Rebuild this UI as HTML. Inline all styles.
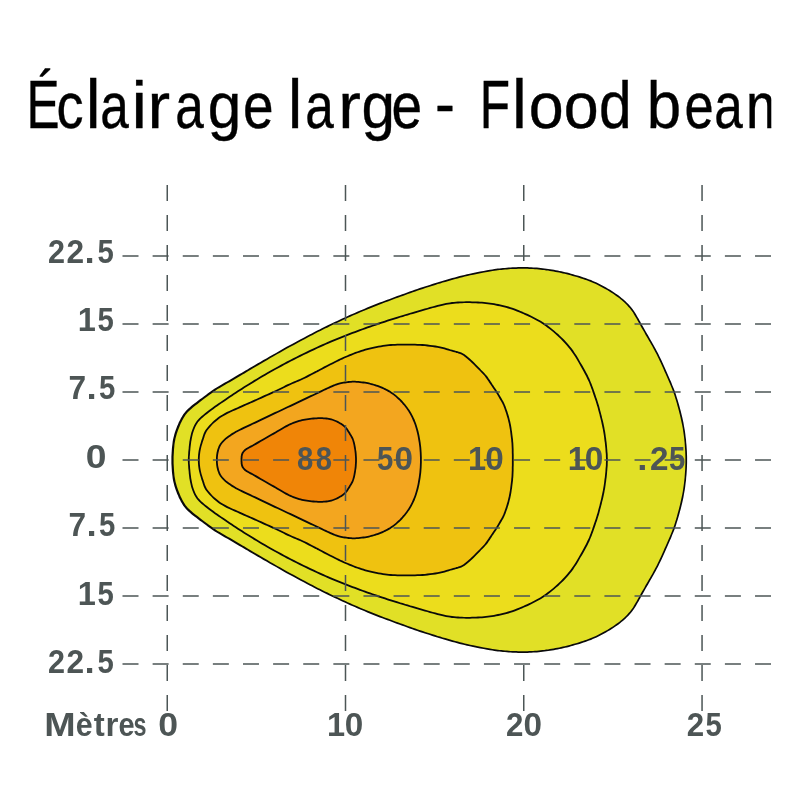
<!DOCTYPE html>
<html lang="fr"><head><meta charset="utf-8"><title>Éclairage large - Flood beam</title>
<style>
html,body{margin:0;padding:0;background:#fff;}
svg{display:block;}
text{font-family:"Liberation Sans",sans-serif;}
.t text{font-size:65.2px;fill:#000;stroke:#000;stroke-width:0.4;}
.l text{font-size:32.5px;font-weight:bold;fill:#4d5555;}
.g line{stroke:#4c5656;stroke-width:1.5;stroke-dasharray:16 14;fill:none;}
.g line.h{stroke-dasharray:16 14.12;}
.c path.k{fill:#0a0a0a;}
</style></head><body>
<svg width="800" height="800" viewBox="0 0 800 800">
<defs><clipPath id="cl"><rect x="0" y="0" width="771.3" height="800"/></clipPath></defs>
<rect width="800" height="800" fill="#fff"/>
<g class="g"><line x1="523.75" y1="185" x2="523.75" y2="711"/></g>
<g class="c">
<path d="M172.50 460.00C172.50 456.67 172.63 453.33 172.90 450.00C173.17 446.67 173.43 443.33 174.10 440.00C174.77 436.67 175.71 433.33 176.90 430.00C178.09 426.67 179.80 422.82 181.25 420.00C182.70 417.18 183.82 415.28 185.60 413.10C187.38 410.92 189.08 409.29 191.90 406.90C194.72 404.51 198.65 401.63 202.50 398.75C206.35 395.87 210.83 392.33 215.00 389.59C219.17 386.85 223.33 384.74 227.50 382.29C231.67 379.84 235.83 377.37 240.00 374.91C244.17 372.45 247.50 370.46 252.50 367.53C257.50 364.60 263.75 360.91 270.00 357.32C276.25 353.73 283.33 349.69 290.00 346.01C296.67 342.33 305.00 337.91 310.00 335.27C315.00 332.63 315.83 332.23 320.00 330.15C324.17 328.07 330.00 325.18 335.00 322.81C340.00 320.44 345.00 318.14 350.00 315.91C355.00 313.68 360.00 311.53 365.00 309.45C370.00 307.37 375.00 305.35 380.00 303.41C385.00 301.47 390.00 299.66 395.00 297.82C400.00 295.98 405.00 294.12 410.00 292.37C415.00 290.62 420.00 288.93 425.00 287.29C430.00 285.66 435.00 284.06 440.00 282.56C445.00 281.06 450.00 279.61 455.00 278.26C460.00 276.91 464.17 275.77 470.00 274.49C475.83 273.21 484.79 271.50 490.00 270.60C495.21 269.70 497.50 269.50 501.25 269.10C505.00 268.70 508.75 268.38 512.50 268.19C516.25 268.00 520.00 267.90 523.75 267.93C527.50 267.96 531.25 268.09 535.00 268.35C538.75 268.61 542.50 269.00 546.25 269.51C550.00 270.01 553.75 270.64 557.50 271.38C561.25 272.12 564.79 272.93 568.75 273.97C572.71 275.01 577.29 276.31 581.25 277.60C585.21 278.89 588.75 280.10 592.50 281.70C596.25 283.30 600.00 285.13 603.75 287.20C607.50 289.27 611.67 291.82 615.00 294.10C618.33 296.38 620.98 298.38 623.75 300.90C626.52 303.42 629.35 306.32 631.60 309.20C633.85 312.08 635.56 315.36 637.25 318.20C638.94 321.04 639.88 322.95 641.75 326.25C643.62 329.55 646.29 334.12 648.50 338.00C650.71 341.88 652.98 345.73 655.00 349.50C657.02 353.27 658.70 356.60 660.60 360.60C662.50 364.60 664.15 368.28 666.40 373.50C668.65 378.72 671.97 386.02 674.10 391.90C676.23 397.77 677.70 403.13 679.20 408.75C680.70 414.37 682.07 419.98 683.10 425.60C684.13 431.23 684.87 436.77 685.40 442.50C685.93 448.23 686.30 454.17 686.30 460.00C686.30 465.83 685.93 471.77 685.40 477.50C684.87 483.23 684.13 488.77 683.10 494.40C682.07 500.02 680.70 505.63 679.20 511.25C677.70 516.87 676.23 522.23 674.10 528.10C671.97 533.98 668.65 541.28 666.40 546.50C664.15 551.72 662.50 555.40 660.60 559.40C658.70 563.40 657.02 566.73 655.00 570.50C652.98 574.27 650.71 578.12 648.50 582.00C646.29 585.88 643.62 590.45 641.75 593.75C639.88 597.05 638.94 598.96 637.25 601.80C635.56 604.64 633.85 607.92 631.60 610.80C629.35 613.68 626.52 616.58 623.75 619.10C620.98 621.62 618.33 623.62 615.00 625.90C611.67 628.18 607.50 630.73 603.75 632.80C600.00 634.87 596.25 636.70 592.50 638.30C588.75 639.90 585.21 641.11 581.25 642.40C577.29 643.69 572.71 644.99 568.75 646.03C564.79 647.07 561.25 647.88 557.50 648.62C553.75 649.36 550.00 649.99 546.25 650.49C542.50 651.00 538.75 651.39 535.00 651.65C531.25 651.91 527.50 652.04 523.75 652.07C520.00 652.10 516.25 652.00 512.50 651.81C508.75 651.62 505.00 651.30 501.25 650.90C497.50 650.50 495.21 650.30 490.00 649.40C484.79 648.50 475.83 646.79 470.00 645.51C464.17 644.23 460.00 643.09 455.00 641.74C450.00 640.39 445.00 638.95 440.00 637.44C435.00 635.94 430.00 634.35 425.00 632.71C420.00 631.08 415.00 629.38 410.00 627.63C405.00 625.88 400.00 624.02 395.00 622.18C390.00 620.34 385.00 618.53 380.00 616.59C375.00 614.65 370.00 612.63 365.00 610.55C360.00 608.47 355.00 606.32 350.00 604.09C345.00 601.86 340.00 599.56 335.00 597.19C330.00 594.82 324.17 591.93 320.00 589.85C315.83 587.77 315.00 587.37 310.00 584.73C305.00 582.09 296.67 577.66 290.00 573.99C283.33 570.32 276.25 566.27 270.00 562.68C263.75 559.09 257.50 555.40 252.50 552.47C247.50 549.54 244.17 547.55 240.00 545.09C235.83 542.63 231.67 540.16 227.50 537.71C223.33 535.26 219.17 533.15 215.00 530.41C210.83 527.67 206.35 524.13 202.50 521.25C198.65 518.37 194.72 515.49 191.90 513.10C189.08 510.71 187.38 509.08 185.60 506.90C183.82 504.72 182.70 502.82 181.25 500.00C179.80 497.18 178.09 493.33 176.90 490.00C175.71 486.67 174.77 483.33 174.10 480.00C173.43 476.67 173.17 473.33 172.90 470.00C172.63 466.67 172.50 463.33 172.50 460.00Z" fill="#e1e026"/>
<path class="k" fill-rule="evenodd" d="M171.4 460.0L171.4 458.3L171.4 456.6L171.5 455.0L171.6 453.3L171.7 451.6L171.8 449.9L171.9 448.2L172.1 446.6L172.3 444.9L172.5 443.2L172.7 441.5L173.0 439.8L173.4 438.1L173.8 436.4L174.2 434.7L174.7 433.0L175.3 431.3L175.9 429.6L176.5 427.9L177.2 426.1L178.0 424.4L178.7 422.6L179.5 421.0L180.3 419.5L181.0 418.1L181.7 416.9L182.4 415.7L183.1 414.6L183.9 413.5L184.7 412.4L185.7 411.3L186.6 410.3L187.6 409.3L188.7 408.3L189.9 407.2L191.2 406.1L192.7 404.8L194.4 403.5L196.2 402.2L198.0 400.8L199.9 399.3L201.9 397.9L203.8 396.4L205.9 394.9L208.0 393.3L210.2 391.7L212.3 390.2L214.4 388.7L216.6 387.4L218.7 386.2L220.8 385.0L222.8 383.8L224.9 382.6L227.0 381.4L229.1 380.2L231.2 379.0L233.3 377.8L235.3 376.5L237.4 375.3L239.5 374.1L241.5 372.9L243.5 371.7L245.5 370.6L247.5 369.4L249.7 368.1L252.0 366.7L254.6 365.2L257.4 363.6L260.3 361.9L263.4 360.1L266.4 358.4L269.6 356.6L272.8 354.7L276.1 352.9L279.4 351.0L282.8 349.0L286.2 347.1L289.6 345.3L293.0 343.4L296.6 341.4L300.2 339.5L303.7 337.7L306.8 336.0L309.6 334.5L311.8 333.4L313.5 332.5L314.9 331.7L316.3 331.1L317.8 330.3L319.6 329.4L321.8 328.3L324.3 327.1L326.8 325.8L329.4 324.5L332.1 323.3L334.6 322.0L337.1 320.9L339.6 319.7L342.1 318.5L344.6 317.4L347.2 316.3L349.7 315.1L352.2 314.0L354.7 312.9L357.2 311.8L359.7 310.8L362.2 309.7L364.7 308.7L367.2 307.6L369.7 306.6L372.2 305.6L374.7 304.6L377.2 303.6L379.7 302.6L382.2 301.7L384.7 300.7L387.2 299.8L389.7 298.9L392.2 297.9L394.7 297.0L397.2 296.1L399.7 295.2L402.2 294.3L404.7 293.4L407.2 292.5L409.7 291.6L412.2 290.7L414.7 289.8L417.2 289.0L419.7 288.1L422.2 287.3L424.7 286.5L427.2 285.7L429.7 284.9L432.2 284.1L434.7 283.3L437.3 282.5L439.8 281.7L442.3 281.0L444.8 280.3L447.3 279.5L449.8 278.8L452.3 278.1L454.8 277.4L457.2 276.8L459.6 276.1L462.0 275.5L464.4 274.9L467.0 274.3L469.8 273.7L473.0 273.0L476.5 272.3L480.1 271.6L483.6 270.9L487.0 270.3L489.9 269.8L492.2 269.4L494.3 269.1L496.1 268.8L497.7 268.6L499.4 268.4L501.2 268.3L503.0 268.1L504.9 267.9L506.8 267.7L508.7 267.6L510.6 267.4L512.5 267.3L514.3 267.3L516.2 267.2L518.1 267.1L520.0 267.1L521.9 267.1L523.8 267.1L525.6 267.1L527.5 267.1L529.4 267.2L531.3 267.3L533.2 267.4L535.1 267.5L536.9 267.6L538.8 267.8L540.7 268.0L542.6 268.2L544.5 268.4L546.4 268.7L548.2 268.9L550.1 269.2L552.0 269.5L553.9 269.8L555.8 270.2L557.7 270.5L559.5 270.9L561.4 271.3L563.2 271.7L565.1 272.2L567.0 272.6L569.0 273.1L571.0 273.7L573.1 274.3L575.2 274.9L577.4 275.5L579.5 276.1L581.5 276.8L583.5 277.4L585.4 278.1L587.2 278.7L589.1 279.4L591.0 280.1L592.8 280.9L594.7 281.7L596.6 282.6L598.5 283.5L600.4 284.5L602.3 285.4L604.2 286.5L606.1 287.5L608.0 288.7L610.0 289.8L611.9 291.0L613.7 292.2L615.5 293.4L617.1 294.5L618.6 295.6L620.1 296.7L621.5 297.9L622.9 299.0L624.3 300.3L625.7 301.6L627.1 302.9L628.5 304.3L629.8 305.8L631.1 307.2L632.3 308.7L633.4 310.2L634.4 311.7L635.4 313.3L636.3 314.8L637.1 316.3L638.0 317.8L638.8 319.1L639.5 320.4L640.2 321.6L640.9 322.9L641.6 324.3L642.5 325.8L643.5 327.6L644.6 329.5L645.7 331.5L646.9 333.5L648.1 335.6L649.2 337.6L650.3 339.5L651.5 341.4L652.6 343.4L653.6 345.3L654.7 347.2L655.7 349.1L656.7 351.0L657.7 352.8L658.6 354.6L659.5 356.4L660.4 358.3L661.4 360.2L662.3 362.2L663.2 364.2L664.1 366.2L665.1 368.4L666.1 370.7L667.2 373.2L668.4 375.9L669.7 378.9L671.1 382.1L672.4 385.4L673.7 388.5L674.9 391.6L675.9 394.5L676.8 397.4L677.7 400.2L678.5 403.0L679.3 405.7L680.0 408.5L680.8 411.3L681.5 414.2L682.2 417.0L682.8 419.8L683.4 422.6L683.9 425.4L684.4 428.3L684.9 431.1L685.3 433.9L685.6 436.7L686.0 439.6L686.2 442.4L686.5 445.3L686.7 448.2L686.9 451.2L687.0 454.1L687.1 457.1L687.1 460.0L687.1 462.9L687.0 465.9L686.9 468.8L686.7 471.8L686.5 474.7L686.2 477.6L686.0 480.4L685.6 483.3L685.3 486.1L684.9 488.9L684.4 491.7L683.9 494.6L683.4 497.4L682.8 500.2L682.2 503.0L681.5 505.8L680.8 508.7L680.0 511.5L679.3 514.3L678.5 517.0L677.7 519.8L676.8 522.6L675.9 525.5L674.9 528.4L673.7 531.5L672.4 534.6L671.1 537.9L669.7 541.1L668.4 544.1L667.2 546.8L666.1 549.3L665.1 551.6L664.1 553.8L663.2 555.8L662.3 557.8L661.4 559.8L660.4 561.7L659.5 563.6L658.6 565.4L657.7 567.2L656.7 569.0L655.7 570.9L654.7 572.8L653.6 574.7L652.6 576.6L651.5 578.6L650.3 580.5L649.2 582.4L648.1 584.4L646.9 586.5L645.7 588.5L644.6 590.5L643.5 592.4L642.5 594.2L641.6 595.7L640.9 597.1L640.2 598.4L639.5 599.6L638.8 600.9L638.0 602.2L637.1 603.7L636.3 605.2L635.4 606.7L634.4 608.3L633.4 609.8L632.3 611.3L631.1 612.8L629.8 614.2L628.5 615.7L627.1 617.1L625.7 618.4L624.3 619.7L622.9 621.0L621.5 622.1L620.1 623.3L618.6 624.4L617.1 625.5L615.5 626.6L613.7 627.8L611.9 629.0L610.0 630.2L608.0 631.3L606.1 632.5L604.2 633.5L602.3 634.6L600.4 635.5L598.5 636.5L596.6 637.4L594.7 638.3L592.8 639.1L591.0 639.9L589.1 640.6L587.2 641.3L585.4 641.9L583.5 642.6L581.5 643.2L579.5 643.9L577.4 644.5L575.2 645.1L573.1 645.7L571.0 646.3L569.0 646.9L567.0 647.4L565.1 647.8L563.2 648.3L561.4 648.7L559.5 649.1L557.7 649.5L555.8 649.8L553.9 650.2L552.0 650.5L550.1 650.8L548.2 651.1L546.4 651.3L544.5 651.6L542.6 651.8L540.7 652.0L538.8 652.2L536.9 652.4L535.1 652.5L533.2 652.6L531.3 652.7L529.4 652.8L527.5 652.9L525.6 652.9L523.8 652.9L521.9 652.9L520.0 652.9L518.1 652.9L516.2 652.8L514.3 652.7L512.5 652.7L510.6 652.6L508.7 652.4L506.8 652.3L504.9 652.1L503.0 651.9L501.2 651.7L499.4 651.6L497.7 651.4L496.1 651.2L494.3 650.9L492.2 650.6L489.9 650.2L487.0 649.7L483.6 649.1L480.1 648.4L476.5 647.7L473.0 647.0L469.8 646.3L467.0 645.7L464.4 645.1L462.0 644.5L459.6 643.9L457.2 643.2L454.8 642.6L452.3 641.9L449.8 641.2L447.3 640.5L444.8 639.7L442.3 639.0L439.8 638.3L437.3 637.5L434.7 636.7L432.2 635.9L429.7 635.1L427.2 634.3L424.7 633.5L422.2 632.7L419.7 631.9L417.2 631.0L414.7 630.2L412.2 629.3L409.7 628.4L407.2 627.5L404.7 626.6L402.2 625.7L399.7 624.8L397.2 623.9L394.7 623.0L392.2 622.1L389.7 621.1L387.2 620.2L384.7 619.3L382.2 618.3L379.7 617.4L377.2 616.4L374.7 615.4L372.2 614.4L369.7 613.4L367.2 612.4L364.7 611.3L362.2 610.3L359.7 609.2L357.2 608.2L354.7 607.1L352.2 606.0L349.7 604.9L347.2 603.7L344.6 602.6L342.1 601.5L339.6 600.3L337.1 599.1L334.6 598.0L332.1 596.7L329.4 595.5L326.8 594.2L324.3 592.9L321.8 591.7L319.6 590.6L317.8 589.7L316.3 588.9L314.9 588.3L313.5 587.5L311.8 586.6L309.6 585.5L306.8 584.0L303.7 582.3L300.2 580.5L296.6 578.6L293.0 576.6L289.6 574.7L286.2 572.9L282.8 571.0L279.4 569.0L276.1 567.1L272.8 565.3L269.6 563.4L266.4 561.6L263.4 559.9L260.3 558.1L257.4 556.4L254.6 554.8L252.0 553.3L249.7 551.9L247.5 550.6L245.5 549.4L243.5 548.3L241.5 547.1L239.5 545.9L237.4 544.7L235.3 543.5L233.3 542.2L231.2 541.0L229.1 539.8L227.0 538.6L224.9 537.4L222.8 536.2L220.8 535.0L218.7 533.8L216.6 532.6L214.4 531.3L212.3 529.8L210.2 528.3L208.0 526.7L205.9 525.1L203.8 523.6L201.9 522.1L199.9 520.7L198.0 519.2L196.2 517.8L194.4 516.5L192.7 515.2L191.2 513.9L189.9 512.8L188.7 511.7L187.6 510.7L186.6 509.7L185.7 508.7L184.7 507.6L183.9 506.5L183.1 505.4L182.4 504.3L181.7 503.1L181.0 501.9L180.3 500.5L179.5 499.0L178.7 497.4L178.0 495.6L177.2 493.9L176.5 492.1L175.9 490.4L175.3 488.7L174.7 487.0L174.2 485.3L173.8 483.6L173.4 481.9L173.0 480.2L172.7 478.5L172.5 476.8L172.3 475.1L172.1 473.4L171.9 471.8L171.8 470.1L171.7 468.4L171.6 466.7L171.5 465.0L171.4 463.4L171.4 461.7ZM173.6 460.0L173.6 458.3L173.6 456.7L173.7 455.0L173.8 453.4L173.9 451.7L174.0 450.1L174.1 448.4L174.3 446.8L174.4 445.1L174.6 443.5L174.9 441.8L175.2 440.2L175.5 438.6L175.9 436.9L176.4 435.3L176.8 433.7L177.4 432.0L177.9 430.4L178.6 428.7L179.3 427.0L180.0 425.2L180.7 423.6L181.5 422.0L182.2 420.5L182.9 419.2L183.6 418.0L184.2 416.9L184.9 415.9L185.6 414.8L186.5 413.8L187.3 412.8L188.2 411.8L189.1 410.9L190.1 409.9L191.3 408.9L192.6 407.7L194.1 406.5L195.7 405.2L197.5 403.9L199.3 402.5L201.2 401.0L203.1 399.6L205.1 398.1L207.2 396.5L209.2 394.9L211.4 393.4L213.5 391.9L215.6 390.4L217.6 389.1L219.7 387.9L221.7 386.7L223.8 385.5L225.9 384.3L228.0 383.1L230.1 381.9L232.2 380.7L234.2 379.4L236.3 378.2L238.4 377.0L240.5 375.7L242.5 374.5L244.5 373.4L246.4 372.2L248.4 371.0L250.6 369.7L253.0 368.3L255.6 366.8L258.3 365.2L261.2 363.4L264.2 361.7L267.3 359.9L270.4 358.1L273.6 356.2L276.9 354.3L280.3 352.4L283.7 350.5L287.1 348.6L290.4 346.8L293.9 344.9L297.4 342.9L301.0 341.0L304.5 339.2L307.6 337.5L310.4 336.0L312.6 334.9L314.3 334.0L315.7 333.3L317.0 332.6L318.5 331.8L320.4 330.9L322.6 329.8L325.0 328.6L327.6 327.4L330.2 326.1L332.8 324.8L335.4 323.6L337.9 322.4L340.4 321.2L342.9 320.1L345.4 318.9L347.8 317.8L350.3 316.7L352.8 315.6L355.3 314.5L357.8 313.4L360.3 312.3L362.8 311.3L365.3 310.2L367.8 309.2L370.3 308.2L372.8 307.2L375.3 306.2L377.8 305.2L380.3 304.2L382.8 303.2L385.3 302.3L387.8 301.4L390.3 300.5L392.8 299.5L395.3 298.6L397.8 297.7L400.3 296.8L402.8 295.9L405.3 295.0L407.8 294.1L410.3 293.2L412.8 292.3L415.3 291.4L417.8 290.6L420.3 289.7L422.8 288.9L425.3 288.1L427.8 287.3L430.3 286.5L432.8 285.7L435.3 284.9L437.7 284.1L440.2 283.4L442.7 282.6L445.2 281.9L447.7 281.2L450.2 280.5L452.7 279.8L455.2 279.1L457.7 278.4L460.0 277.8L462.4 277.2L464.8 276.6L467.4 275.9L470.2 275.3L473.3 274.7L476.8 273.9L480.4 273.2L484.0 272.6L487.3 271.9L490.1 271.4L492.5 271.0L494.5 270.7L496.3 270.5L497.9 270.3L499.6 270.1L501.3 269.9L503.2 269.8L505.1 269.6L506.9 269.4L508.8 269.3L510.7 269.1L512.5 269.0L514.4 269.0L516.3 268.9L518.1 268.8L520.0 268.8L521.9 268.8L523.7 268.8L525.6 268.8L527.5 268.8L529.3 268.9L531.2 269.0L533.1 269.1L534.9 269.2L536.8 269.3L538.7 269.5L540.5 269.7L542.4 269.9L544.3 270.1L546.1 270.4L548.0 270.6L549.9 270.9L551.7 271.2L553.6 271.5L555.5 271.9L557.3 272.2L559.2 272.6L561.0 273.0L562.9 273.4L564.7 273.8L566.6 274.3L568.5 274.8L570.6 275.3L572.6 275.9L574.8 276.5L576.9 277.1L579.0 277.8L581.0 278.4L582.9 279.0L584.8 279.7L586.7 280.3L588.5 281.0L590.3 281.7L592.2 282.5L594.0 283.3L595.9 284.1L597.8 285.0L599.6 286.0L601.5 286.9L603.3 287.9L605.2 289.0L607.2 290.1L609.1 291.3L611.0 292.5L612.8 293.6L614.5 294.8L616.1 295.9L617.6 297.0L619.1 298.1L620.5 299.2L621.8 300.3L623.2 301.5L624.6 302.8L625.9 304.1L627.3 305.5L628.5 306.9L629.8 308.3L630.9 309.7L632.0 311.2L633.0 312.6L633.9 314.2L634.8 315.7L635.7 317.2L636.5 318.6L637.3 320.0L638.0 321.2L638.7 322.5L639.4 323.7L640.1 325.1L641.0 326.7L642.0 328.4L643.1 330.3L644.3 332.3L645.4 334.4L646.6 336.4L647.8 338.4L648.9 340.4L650.0 342.3L651.1 344.2L652.2 346.1L653.2 348.0L654.3 349.9L655.2 351.7L656.2 353.6L657.1 355.3L658.0 357.2L658.9 359.0L659.8 361.0L660.8 362.9L661.7 364.9L662.6 366.9L663.5 369.1L664.5 371.4L665.6 373.8L666.8 376.6L668.1 379.6L669.5 382.8L670.9 386.0L672.2 389.2L673.3 392.2L674.3 395.1L675.2 397.9L676.1 400.7L676.9 403.4L677.6 406.2L678.4 409.0L679.1 411.8L679.8 414.6L680.5 417.4L681.1 420.2L681.7 423.0L682.3 425.8L682.8 428.5L683.2 431.3L683.6 434.1L684.0 436.9L684.3 439.7L684.6 442.6L684.8 445.5L685.0 448.3L685.2 451.3L685.3 454.2L685.4 457.1L685.4 460.0L685.4 462.9L685.3 465.8L685.2 468.7L685.0 471.7L684.8 474.5L684.6 477.4L684.3 480.3L684.0 483.1L683.6 485.9L683.2 488.7L682.8 491.5L682.3 494.2L681.7 497.0L681.1 499.8L680.5 502.6L679.8 505.4L679.1 508.2L678.4 511.0L677.6 513.8L676.9 516.6L676.1 519.3L675.2 522.1L674.3 524.9L673.3 527.8L672.2 530.8L670.9 534.0L669.5 537.2L668.1 540.4L666.8 543.4L665.6 546.2L664.5 548.6L663.5 550.9L662.6 553.1L661.7 555.1L660.8 557.1L659.8 559.0L658.9 561.0L658.0 562.8L657.1 564.7L656.2 566.4L655.2 568.3L654.3 570.1L653.2 572.0L652.2 573.9L651.1 575.8L650.0 577.7L648.9 579.6L647.8 581.6L646.6 583.6L645.4 585.6L644.3 587.7L643.1 589.7L642.0 591.6L641.0 593.3L640.1 594.9L639.4 596.3L638.7 597.5L638.0 598.8L637.3 600.0L636.5 601.4L635.7 602.8L634.8 604.3L633.9 605.8L633.0 607.4L632.0 608.8L630.9 610.3L629.8 611.7L628.5 613.1L627.3 614.5L625.9 615.9L624.6 617.2L623.2 618.5L621.8 619.7L620.5 620.8L619.1 621.9L617.6 623.0L616.1 624.1L614.5 625.2L612.8 626.4L611.0 627.5L609.1 628.7L607.2 629.9L605.2 631.0L603.3 632.1L601.5 633.1L599.6 634.0L597.8 635.0L595.9 635.9L594.0 636.7L592.2 637.5L590.3 638.3L588.5 639.0L586.7 639.7L584.8 640.3L582.9 641.0L581.0 641.6L579.0 642.2L576.9 642.9L574.8 643.5L572.6 644.1L570.6 644.7L568.5 645.2L566.6 645.7L564.7 646.2L562.9 646.6L561.0 647.0L559.2 647.4L557.3 647.8L555.5 648.1L553.6 648.5L551.7 648.8L549.9 649.1L548.0 649.4L546.1 649.6L544.3 649.9L542.4 650.1L540.5 650.3L538.7 650.5L536.8 650.7L534.9 650.8L533.1 650.9L531.2 651.0L529.3 651.1L527.5 651.2L525.6 651.2L523.7 651.2L521.9 651.2L520.0 651.2L518.1 651.2L516.3 651.1L514.4 651.0L512.5 651.0L510.7 650.9L508.8 650.7L506.9 650.6L505.1 650.4L503.2 650.2L501.3 650.1L499.6 649.9L497.9 649.7L496.3 649.5L494.5 649.3L492.5 649.0L490.1 648.6L487.3 648.1L484.0 647.4L480.4 646.8L476.8 646.1L473.3 645.3L470.2 644.7L467.4 644.1L464.8 643.4L462.4 642.8L460.0 642.2L457.7 641.6L455.2 640.9L452.7 640.2L450.2 639.5L447.7 638.8L445.2 638.1L442.7 637.4L440.2 636.6L437.7 635.9L435.3 635.1L432.8 634.3L430.3 633.5L427.8 632.7L425.3 631.9L422.8 631.1L420.3 630.3L417.8 629.4L415.3 628.6L412.8 627.7L410.3 626.8L407.8 625.9L405.3 625.0L402.8 624.1L400.3 623.2L397.8 622.3L395.3 621.4L392.8 620.5L390.3 619.5L387.8 618.6L385.3 617.7L382.8 616.8L380.3 615.8L377.8 614.8L375.3 613.8L372.8 612.8L370.3 611.8L367.8 610.8L365.3 609.8L362.8 608.7L360.3 607.7L357.8 606.6L355.3 605.5L352.8 604.4L350.3 603.3L347.8 602.2L345.4 601.1L342.9 599.9L340.4 598.8L337.9 597.6L335.4 596.4L332.8 595.2L330.2 593.9L327.6 592.6L325.0 591.4L322.6 590.2L320.4 589.1L318.5 588.2L317.0 587.4L315.7 586.7L314.3 586.0L312.6 585.1L310.4 584.0L307.6 582.5L304.5 580.8L301.0 579.0L297.4 577.1L293.9 575.1L290.4 573.2L287.1 571.4L283.7 569.5L280.3 567.6L276.9 565.7L273.6 563.8L270.4 561.9L267.3 560.1L264.2 558.3L261.2 556.6L258.3 554.8L255.6 553.2L253.0 551.7L250.6 550.3L248.4 549.0L246.4 547.8L244.5 546.6L242.5 545.5L240.5 544.3L238.4 543.0L236.3 541.8L234.2 540.6L232.2 539.3L230.1 538.1L228.0 536.9L225.9 535.7L223.8 534.5L221.7 533.3L219.7 532.1L217.6 530.9L215.6 529.6L213.5 528.1L211.4 526.6L209.2 525.1L207.2 523.5L205.1 521.9L203.1 520.4L201.2 519.0L199.3 517.5L197.5 516.1L195.7 514.8L194.1 513.5L192.6 512.3L191.3 511.1L190.1 510.1L189.1 509.1L188.2 508.2L187.3 507.2L186.5 506.2L185.6 505.2L184.9 504.1L184.2 503.1L183.6 502.0L182.9 500.8L182.2 499.5L181.5 498.0L180.7 496.4L180.0 494.8L179.3 493.0L178.6 491.3L177.9 489.6L177.4 488.0L176.8 486.3L176.4 484.7L175.9 483.1L175.5 481.4L175.2 479.8L174.9 478.2L174.6 476.5L174.4 474.9L174.3 473.2L174.1 471.6L174.0 469.9L173.9 468.3L173.8 466.6L173.7 465.0L173.6 463.3L173.6 461.7Z"/>
<path d="M188.75 460.00C188.75 456.67 189.09 453.33 189.40 450.00C189.71 446.67 189.98 443.34 190.60 440.03C191.22 436.72 191.95 433.21 193.10 430.14C194.25 427.07 195.52 424.22 197.50 421.60C199.48 418.99 202.08 416.90 205.00 414.45C207.92 412.00 211.25 409.58 215.00 406.88C218.75 404.18 223.33 401.06 227.50 398.25C231.67 395.44 235.83 392.68 240.00 390.00C244.17 387.32 248.33 384.70 252.50 382.15C256.67 379.60 260.21 377.45 265.00 374.69C269.79 371.93 275.42 368.71 281.25 365.57C287.08 362.43 293.54 359.05 300.00 355.86C306.46 352.67 314.17 349.07 320.00 346.42C325.83 343.77 330.00 342.02 335.00 339.94C340.00 337.86 345.00 335.85 350.00 333.92C355.00 331.99 360.00 330.14 365.00 328.35C370.00 326.56 375.00 324.83 380.00 323.16C385.00 321.49 390.00 319.89 395.00 318.33C400.00 316.76 405.00 315.25 410.00 313.77C415.00 312.29 420.00 310.87 425.00 309.45C430.00 308.03 435.50 306.35 440.00 305.28C444.50 304.20 448.00 303.50 452.00 303.00C456.00 302.50 460.00 302.35 464.00 302.25C468.00 302.15 472.00 302.22 476.00 302.40C480.00 302.57 484.00 302.80 488.00 303.30C492.00 303.80 496.00 304.52 500.00 305.40C504.00 306.28 508.67 307.54 512.00 308.60C515.33 309.66 516.79 310.38 520.00 311.75C523.21 313.12 527.50 314.93 531.25 316.80C535.00 318.68 538.75 320.56 542.50 323.00C546.25 325.44 550.00 328.27 553.75 331.45C557.50 334.63 561.62 338.44 565.00 342.10C568.38 345.76 570.75 348.54 574.00 353.40C577.25 358.26 581.83 366.40 584.50 371.25C587.17 376.10 588.40 378.75 590.00 382.50C591.60 386.25 592.80 390.00 594.10 393.75C595.40 397.50 596.68 401.25 597.80 405.00C598.92 408.75 599.87 412.50 600.80 416.25C601.73 420.00 602.67 423.75 603.40 427.50C604.13 431.25 604.70 435.00 605.20 438.75C605.70 442.50 606.12 446.46 606.40 450.00C606.68 453.54 606.90 456.67 606.90 460.00C606.90 463.33 606.68 466.46 606.40 470.00C606.12 473.54 605.70 477.50 605.20 481.25C604.70 485.00 604.13 488.75 603.40 492.50C602.67 496.25 601.73 500.00 600.80 503.75C599.87 507.50 598.92 511.25 597.80 515.00C596.68 518.75 595.40 522.50 594.10 526.25C592.80 530.00 591.60 533.75 590.00 537.50C588.40 541.25 587.17 543.90 584.50 548.75C581.83 553.60 577.25 561.74 574.00 566.60C570.75 571.46 568.38 574.24 565.00 577.90C561.62 581.56 557.50 585.37 553.75 588.55C550.00 591.73 546.25 594.56 542.50 597.00C538.75 599.44 535.00 601.33 531.25 603.20C527.50 605.08 523.21 606.88 520.00 608.25C516.79 609.62 515.33 610.34 512.00 611.40C508.67 612.46 504.00 613.72 500.00 614.60C496.00 615.48 492.00 616.20 488.00 616.70C484.00 617.20 480.00 617.43 476.00 617.60C472.00 617.77 468.00 617.85 464.00 617.75C460.00 617.65 456.00 617.50 452.00 617.00C448.00 616.50 444.50 615.80 440.00 614.72C435.50 613.64 430.00 611.96 425.00 610.55C420.00 609.13 415.00 607.71 410.00 606.23C405.00 604.75 400.00 603.24 395.00 601.67C390.00 600.11 385.00 598.51 380.00 596.84C375.00 595.17 370.00 593.44 365.00 591.65C360.00 589.86 355.00 588.01 350.00 586.08C345.00 584.15 340.00 582.14 335.00 580.06C330.00 577.98 325.83 576.23 320.00 573.58C314.17 570.93 306.46 567.33 300.00 564.14C293.54 560.95 287.08 557.57 281.25 554.43C275.42 551.29 269.79 548.07 265.00 545.31C260.21 542.55 256.67 540.40 252.50 537.85C248.33 535.30 244.17 532.68 240.00 530.00C235.83 527.32 231.67 524.56 227.50 521.75C223.33 518.94 218.75 515.82 215.00 513.12C211.25 510.42 207.92 508.00 205.00 505.55C202.08 503.10 199.48 501.01 197.50 498.40C195.52 495.78 194.25 492.93 193.10 489.86C191.95 486.79 191.22 483.28 190.60 479.97C189.98 476.66 189.71 473.33 189.40 470.00C189.09 466.67 188.75 463.33 188.75 460.00Z" fill="#ecdd1c"/>
<path class="k" fill-rule="evenodd" d="M187.8 460.0L187.9 458.3L188.0 456.6L188.1 454.9L188.2 453.3L188.3 451.6L188.5 449.9L188.7 448.3L188.8 446.6L189.0 444.9L189.2 443.2L189.4 441.5L189.7 439.9L190.0 438.2L190.4 436.5L190.8 434.8L191.2 433.1L191.7 431.4L192.3 429.8L192.9 428.3L193.5 426.8L194.2 425.3L195.0 423.8L195.8 422.4L196.8 421.1L197.9 419.7L199.0 418.5L200.3 417.3L201.6 416.1L203.0 415.0L204.4 413.8L205.9 412.5L207.5 411.3L209.1 410.0L210.9 408.8L212.6 407.5L214.5 406.1L216.4 404.8L218.5 403.3L220.6 401.9L222.7 400.4L224.9 398.9L227.0 397.5L229.1 396.1L231.2 394.7L233.3 393.3L235.3 392.0L237.4 390.6L239.5 389.2L241.6 387.9L243.7 386.6L245.8 385.3L247.9 384.0L249.9 382.7L252.0 381.4L254.1 380.1L256.1 378.9L258.1 377.7L260.1 376.5L262.2 375.2L264.5 373.9L267.0 372.5L269.6 371.0L272.3 369.5L275.1 367.9L277.9 366.4L280.8 364.8L283.8 363.2L286.8 361.6L290.0 359.9L293.2 358.3L296.4 356.7L299.6 355.1L302.9 353.4L306.4 351.8L309.9 350.1L313.3 348.5L316.6 347.0L319.6 345.6L322.4 344.3L325.0 343.2L327.5 342.1L329.8 341.1L332.2 340.1L334.7 339.1L337.2 338.1L339.7 337.0L342.2 336.0L344.7 335.0L347.2 334.1L349.7 333.1L352.2 332.1L354.7 331.2L357.2 330.2L359.7 329.3L362.2 328.4L364.7 327.5L367.2 326.6L369.7 325.7L372.2 324.9L374.7 324.0L377.2 323.1L379.7 322.3L382.2 321.5L384.7 320.7L387.2 319.8L389.7 319.0L392.2 318.3L394.7 317.5L397.2 316.7L399.7 315.9L402.2 315.2L404.7 314.4L407.2 313.7L409.7 312.9L412.2 312.2L414.7 311.4L417.3 310.7L419.8 310.0L422.3 309.3L424.8 308.6L427.3 307.9L429.9 307.1L432.4 306.4L435.0 305.7L437.4 305.0L439.8 304.4L442.0 303.9L444.0 303.4L446.0 303.0L448.0 302.7L449.9 302.4L451.9 302.1L453.9 301.9L455.9 301.7L457.9 301.6L460.0 301.5L462.0 301.4L464.0 301.4L466.0 301.3L468.0 301.3L470.0 301.3L472.0 301.4L474.0 301.4L476.0 301.5L478.0 301.6L480.1 301.7L482.1 301.8L484.1 302.0L486.1 302.2L488.1 302.4L490.1 302.7L492.1 303.0L494.2 303.3L496.2 303.7L498.2 304.1L500.2 304.5L502.3 305.0L504.4 305.5L506.5 306.1L508.5 306.6L510.5 307.2L512.3 307.7L513.8 308.3L515.2 308.7L516.4 309.2L517.6 309.7L518.9 310.3L520.4 310.9L522.0 311.6L523.9 312.4L525.8 313.3L527.8 314.1L529.7 315.1L531.6 316.0L533.5 316.9L535.4 317.9L537.3 318.9L539.2 319.9L541.1 321.1L543.0 322.2L544.9 323.5L546.8 324.8L548.7 326.2L550.6 327.7L552.4 329.2L554.3 330.8L556.2 332.4L558.2 334.1L560.1 335.9L562.0 337.8L563.9 339.6L565.7 341.5L567.3 343.3L568.8 345.0L570.2 346.7L571.7 348.6L573.2 350.6L574.7 352.9L576.5 355.6L578.3 358.6L580.2 361.9L582.1 365.1L583.8 368.1L585.3 370.8L586.5 373.1L587.6 375.1L588.5 376.9L589.3 378.6L590.0 380.3L590.8 382.2L591.6 384.0L592.3 385.9L593.0 387.8L593.7 389.7L594.3 391.6L595.0 393.5L595.6 395.3L596.2 397.2L596.9 399.1L597.5 401.0L598.1 402.9L598.7 404.7L599.2 406.6L599.7 408.5L600.2 410.4L600.7 412.3L601.2 414.2L601.7 416.0L602.1 417.9L602.6 419.8L603.1 421.7L603.5 423.6L603.9 425.4L604.3 427.3L604.6 429.2L605.0 431.1L605.3 433.0L605.6 434.9L605.8 436.8L606.1 438.6L606.3 440.5L606.6 442.4L606.8 444.4L607.0 446.3L607.1 448.1L607.3 449.9L607.4 451.7L607.6 453.4L607.7 455.0L607.7 456.7L607.8 458.3L607.8 460.0L607.8 461.7L607.7 463.3L607.7 465.0L607.6 466.6L607.4 468.3L607.3 470.1L607.1 471.9L607.0 473.7L606.8 475.6L606.6 477.6L606.3 479.5L606.1 481.4L605.8 483.2L605.6 485.1L605.3 487.0L605.0 488.9L604.6 490.8L604.3 492.7L603.9 494.6L603.5 496.4L603.1 498.3L602.6 500.2L602.1 502.1L601.7 504.0L601.2 505.8L600.7 507.7L600.2 509.6L599.7 511.5L599.2 513.4L598.7 515.3L598.1 517.1L597.5 519.0L596.9 520.9L596.2 522.8L595.6 524.7L595.0 526.5L594.3 528.4L593.7 530.3L593.0 532.2L592.3 534.1L591.6 536.0L590.8 537.8L590.0 539.7L589.3 541.4L588.5 543.1L587.6 544.9L586.5 546.9L585.3 549.2L583.8 551.9L582.1 554.9L580.2 558.1L578.3 561.4L576.5 564.4L574.7 567.1L573.2 569.4L571.7 571.4L570.2 573.3L568.8 575.0L567.3 576.7L565.7 578.5L563.9 580.4L562.0 582.2L560.1 584.1L558.2 585.9L556.2 587.6L554.3 589.2L552.4 590.8L550.6 592.3L548.7 593.8L546.8 595.2L544.9 596.5L543.0 597.8L541.1 598.9L539.2 600.1L537.3 601.1L535.4 602.1L533.5 603.1L531.6 604.0L529.7 604.9L527.8 605.9L525.8 606.7L523.9 607.6L522.0 608.4L520.4 609.1L518.9 609.7L517.6 610.3L516.4 610.8L515.2 611.3L513.8 611.7L512.3 612.3L510.5 612.8L508.5 613.4L506.5 613.9L504.4 614.5L502.3 615.0L500.2 615.5L498.2 615.9L496.2 616.3L494.2 616.7L492.1 617.0L490.1 617.3L488.1 617.6L486.1 617.8L484.1 618.0L482.1 618.2L480.1 618.3L478.0 618.4L476.0 618.5L474.0 618.6L472.0 618.6L470.0 618.7L468.0 618.7L466.0 618.7L464.0 618.6L462.0 618.6L460.0 618.5L457.9 618.4L455.9 618.3L453.9 618.1L451.9 617.9L449.9 617.6L448.0 617.3L446.0 617.0L444.0 616.6L442.0 616.1L439.8 615.6L437.4 615.0L435.0 614.3L432.4 613.6L429.9 612.9L427.3 612.1L424.8 611.4L422.3 610.7L419.8 610.0L417.3 609.3L414.7 608.6L412.2 607.8L409.7 607.1L407.2 606.3L404.7 605.6L402.2 604.8L399.7 604.1L397.2 603.3L394.7 602.5L392.2 601.7L389.7 601.0L387.2 600.2L384.7 599.3L382.2 598.5L379.7 597.7L377.2 596.9L374.7 596.0L372.2 595.1L369.7 594.3L367.2 593.4L364.7 592.5L362.2 591.6L359.7 590.7L357.2 589.8L354.7 588.8L352.2 587.9L349.7 586.9L347.2 585.9L344.7 585.0L342.2 584.0L339.7 583.0L337.2 581.9L334.7 580.9L332.2 579.9L329.8 578.9L327.5 577.9L325.0 576.8L322.4 575.7L319.6 574.4L316.6 573.0L313.3 571.5L309.9 569.9L306.4 568.2L302.9 566.6L299.6 564.9L296.4 563.3L293.2 561.7L290.0 560.1L286.8 558.4L283.8 556.8L280.8 555.2L277.9 553.6L275.1 552.1L272.3 550.5L269.6 549.0L267.0 547.5L264.5 546.1L262.2 544.8L260.1 543.5L258.1 542.3L256.1 541.1L254.1 539.9L252.0 538.6L249.9 537.3L247.9 536.0L245.8 534.7L243.7 533.4L241.6 532.1L239.5 530.8L237.4 529.4L235.3 528.0L233.3 526.7L231.2 525.3L229.1 523.9L227.0 522.5L224.9 521.1L222.7 519.6L220.6 518.1L218.5 516.7L216.4 515.2L214.5 513.9L212.6 512.5L210.9 511.2L209.1 510.0L207.5 508.7L205.9 507.5L204.4 506.2L203.0 505.0L201.6 503.9L200.3 502.7L199.0 501.5L197.9 500.3L196.8 498.9L195.8 497.6L195.0 496.2L194.2 494.7L193.5 493.2L192.9 491.7L192.3 490.2L191.7 488.6L191.2 486.9L190.8 485.2L190.4 483.5L190.0 481.8L189.7 480.1L189.4 478.5L189.2 476.8L189.0 475.1L188.8 473.4L188.7 471.7L188.5 470.1L188.3 468.4L188.2 466.7L188.1 465.1L188.0 463.4L187.9 461.7ZM189.7 460.0L189.7 458.4L189.7 456.7L189.9 455.1L190.0 453.4L190.1 451.7L190.3 450.1L190.4 448.4L190.6 446.8L190.8 445.1L191.0 443.5L191.2 441.8L191.5 440.2L191.8 438.5L192.1 436.9L192.5 435.2L192.9 433.6L193.4 432.0L193.9 430.4L194.5 429.0L195.1 427.5L195.8 426.1L196.5 424.7L197.3 423.4L198.2 422.1L199.2 420.9L200.3 419.8L201.5 418.6L202.8 417.5L204.1 416.3L205.6 415.1L207.1 413.9L208.6 412.7L210.2 411.5L211.9 410.2L213.7 408.9L215.5 407.6L217.5 406.2L219.5 404.8L221.6 403.3L223.7 401.9L225.9 400.4L228.0 399.0L230.1 397.6L232.2 396.2L234.2 394.8L236.3 393.5L238.4 392.1L240.5 390.8L242.6 389.4L244.6 388.1L246.7 386.8L248.8 385.5L250.9 384.2L253.0 382.9L255.0 381.7L257.0 380.5L259.0 379.3L261.0 378.1L263.2 376.8L265.5 375.5L267.9 374.1L270.5 372.6L273.2 371.1L275.9 369.5L278.8 367.9L281.7 366.4L284.6 364.8L287.7 363.2L290.8 361.5L294.0 359.9L297.2 358.3L300.4 356.7L303.7 355.0L307.1 353.4L310.6 351.8L314.0 350.2L317.3 348.6L320.4 347.2L323.2 346.0L325.7 344.8L328.2 343.8L330.5 342.8L332.9 341.8L335.3 340.8L337.8 339.7L340.3 338.7L342.8 337.7L345.3 336.7L347.8 335.7L350.3 334.8L352.8 333.8L355.3 332.9L357.8 331.9L360.3 331.0L362.8 330.1L365.3 329.2L367.8 328.3L370.3 327.4L372.8 326.6L375.3 325.7L377.8 324.9L380.3 324.0L382.8 323.2L385.3 322.4L387.8 321.6L390.3 320.8L392.8 320.0L395.3 319.2L397.8 318.4L400.3 317.6L402.8 316.9L405.3 316.1L407.8 315.4L410.3 314.6L412.8 313.9L415.3 313.2L417.7 312.5L420.2 311.7L422.7 311.0L425.2 310.3L427.8 309.6L430.4 308.8L432.9 308.1L435.5 307.4L437.9 306.7L440.2 306.2L442.4 305.7L444.4 305.2L446.4 304.8L448.3 304.5L450.2 304.2L452.1 303.9L454.1 303.7L456.1 303.5L458.1 303.4L460.0 303.3L462.0 303.2L464.0 303.1L466.0 303.1L468.0 303.1L470.0 303.1L472.0 303.2L474.0 303.2L476.0 303.3L478.0 303.4L479.9 303.5L481.9 303.6L483.9 303.8L485.9 304.0L487.9 304.2L489.9 304.5L491.9 304.8L493.8 305.1L495.8 305.5L497.8 305.9L499.8 306.3L501.8 306.7L503.9 307.3L506.0 307.8L508.1 308.4L510.0 308.9L511.7 309.5L513.2 310.0L514.5 310.4L515.7 310.9L516.9 311.4L518.2 311.9L519.6 312.6L521.3 313.3L523.2 314.1L525.1 314.9L527.0 315.8L529.0 316.7L530.9 317.6L532.7 318.5L534.6 319.5L536.4 320.5L538.3 321.5L540.2 322.6L542.0 323.8L543.9 325.0L545.7 326.3L547.6 327.7L549.4 329.1L551.3 330.6L553.2 332.1L555.1 333.8L557.0 335.5L558.9 337.3L560.8 339.1L562.6 340.9L564.3 342.7L565.9 344.5L567.4 346.2L568.8 347.9L570.3 349.7L571.7 351.7L573.3 353.9L575.0 356.5L576.8 359.6L578.7 362.8L580.5 366.0L582.2 369.0L583.7 371.7L584.9 373.9L586.0 375.9L586.8 377.7L587.6 379.4L588.4 381.1L589.2 382.8L589.9 384.7L590.6 386.6L591.3 388.4L592.0 390.3L592.6 392.2L593.2 394.0L593.9 395.9L594.5 397.8L595.2 399.7L595.8 401.5L596.4 403.4L596.9 405.3L597.5 407.1L598.0 409.0L598.5 410.9L599.0 412.7L599.5 414.6L599.9 416.5L600.4 418.3L600.9 420.2L601.3 422.1L601.7 423.9L602.1 425.8L602.5 427.7L602.9 429.5L603.2 431.4L603.5 433.3L603.8 435.1L604.1 437.0L604.3 438.9L604.5 440.8L604.8 442.6L605.0 444.5L605.2 446.4L605.4 448.3L605.5 450.1L605.6 451.8L605.8 453.5L605.9 455.1L605.9 456.7L606.0 458.4L606.0 460.0L606.0 461.6L605.9 463.3L605.9 464.9L605.8 466.5L605.6 468.2L605.5 469.9L605.4 471.7L605.2 473.6L605.0 475.5L604.8 477.4L604.5 479.2L604.3 481.1L604.1 483.0L603.8 484.9L603.5 486.7L603.2 488.6L602.9 490.5L602.5 492.3L602.1 494.2L601.7 496.1L601.3 497.9L600.9 499.8L600.4 501.7L599.9 503.5L599.5 505.4L599.0 507.3L598.5 509.1L598.0 511.0L597.5 512.9L596.9 514.7L596.4 516.6L595.8 518.5L595.2 520.3L594.5 522.2L593.9 524.1L593.2 526.0L592.6 527.8L592.0 529.7L591.3 531.6L590.6 533.4L589.9 535.3L589.2 537.2L588.4 538.9L587.6 540.6L586.8 542.3L586.0 544.1L584.9 546.1L583.7 548.3L582.2 551.0L580.5 554.0L578.7 557.2L576.8 560.4L575.0 563.5L573.3 566.1L571.7 568.3L570.3 570.3L568.8 572.1L567.4 573.8L565.9 575.5L564.3 577.3L562.6 579.1L560.8 580.9L558.9 582.7L557.0 584.5L555.1 586.2L553.2 587.9L551.3 589.4L549.4 590.9L547.6 592.3L545.7 593.7L543.9 595.0L542.0 596.2L540.2 597.4L538.3 598.5L536.4 599.5L534.6 600.5L532.7 601.5L530.9 602.4L529.0 603.3L527.0 604.2L525.1 605.1L523.2 605.9L521.3 606.7L519.6 607.4L518.2 608.1L516.9 608.6L515.7 609.1L514.5 609.6L513.2 610.0L511.7 610.5L510.0 611.1L508.1 611.6L506.0 612.2L503.9 612.7L501.8 613.3L499.8 613.7L497.8 614.1L495.8 614.5L493.8 614.9L491.9 615.2L489.9 615.5L487.9 615.8L485.9 616.0L483.9 616.2L481.9 616.4L479.9 616.5L478.0 616.6L476.0 616.7L474.0 616.8L472.0 616.8L470.0 616.9L468.0 616.9L466.0 616.9L464.0 616.9L462.0 616.8L460.0 616.7L458.1 616.6L456.1 616.5L454.1 616.3L452.1 616.1L450.2 615.8L448.3 615.5L446.4 615.2L444.4 614.8L442.4 614.3L440.2 613.8L437.9 613.3L435.5 612.6L432.9 611.9L430.4 611.2L427.8 610.4L425.2 609.7L422.7 609.0L420.2 608.3L417.7 607.5L415.3 606.8L412.8 606.1L410.3 605.4L407.8 604.6L405.3 603.9L402.8 603.1L400.3 602.4L397.8 601.6L395.3 600.8L392.8 600.0L390.3 599.2L387.8 598.4L385.3 597.6L382.8 596.8L380.3 596.0L377.8 595.1L375.3 594.3L372.8 593.4L370.3 592.6L367.8 591.7L365.3 590.8L362.8 589.9L360.3 589.0L357.8 588.1L355.3 587.1L352.8 586.2L350.3 585.2L347.8 584.3L345.3 583.3L342.8 582.3L340.3 581.3L337.8 580.3L335.3 579.2L332.9 578.2L330.5 577.2L328.2 576.2L325.7 575.2L323.2 574.0L320.4 572.8L317.3 571.4L314.0 569.8L310.6 568.2L307.1 566.6L303.7 565.0L300.4 563.3L297.2 561.7L294.0 560.1L290.8 558.5L287.7 556.8L284.6 555.2L281.7 553.6L278.8 552.1L275.9 550.5L273.2 548.9L270.5 547.4L267.9 545.9L265.5 544.5L263.2 543.2L261.0 541.9L259.0 540.7L257.0 539.5L255.0 538.3L253.0 537.1L250.9 535.8L248.8 534.5L246.7 533.2L244.6 531.9L242.6 530.6L240.5 529.2L238.4 527.9L236.3 526.5L234.2 525.2L232.2 523.8L230.1 522.4L228.0 521.0L225.9 519.6L223.7 518.1L221.6 516.7L219.5 515.2L217.5 513.8L215.5 512.4L213.7 511.1L211.9 509.8L210.2 508.5L208.6 507.3L207.1 506.1L205.6 504.9L204.1 503.7L202.8 502.5L201.5 501.4L200.3 500.2L199.2 499.1L198.2 497.9L197.3 496.6L196.5 495.3L195.8 493.9L195.1 492.5L194.5 491.0L193.9 489.6L193.4 488.0L192.9 486.4L192.5 484.8L192.1 483.1L191.8 481.5L191.5 479.8L191.2 478.2L191.0 476.5L190.8 474.9L190.6 473.2L190.4 471.6L190.3 469.9L190.1 468.3L190.0 466.6L189.9 464.9L189.7 463.3L189.7 461.6Z"/>
<path d="M198.80 460.00C198.80 456.73 199.10 453.45 199.70 450.18C200.30 446.91 201.31 443.62 202.40 440.36C203.49 437.10 204.15 433.85 206.25 430.62C208.35 427.39 211.88 423.75 215.00 421.00C218.12 418.25 220.83 416.41 225.00 414.10C229.17 411.79 235.42 409.21 240.00 407.12C244.58 405.03 248.33 403.44 252.50 401.58C256.67 399.72 260.83 397.84 265.00 395.94C269.17 394.04 273.33 392.16 277.50 390.20C281.67 388.24 285.83 386.08 290.00 384.18C294.17 382.28 298.33 380.76 302.50 378.80C306.67 376.84 312.08 373.93 315.00 372.42C317.92 370.91 316.67 371.50 320.00 369.76C323.33 368.02 330.75 364.08 335.00 361.96C339.25 359.84 341.75 358.64 345.50 357.02C349.25 355.40 353.50 353.65 357.50 352.25C361.50 350.85 365.25 349.65 369.50 348.60C373.75 347.55 378.75 346.58 383.00 345.94C387.25 345.30 390.50 345.00 395.00 344.78C399.50 344.56 405.00 344.54 410.00 344.62C415.00 344.70 420.00 344.78 425.00 345.24C430.00 345.70 435.50 346.49 440.00 347.40C444.50 348.31 448.88 349.83 452.00 350.70C455.12 351.57 456.75 351.92 458.70 352.60C460.65 353.28 461.45 353.23 463.70 354.80C465.95 356.37 469.38 359.38 472.20 362.00C475.02 364.62 478.26 368.07 480.60 370.50C482.94 372.93 484.40 374.23 486.25 376.60C488.10 378.97 489.91 382.03 491.70 384.70C493.49 387.37 495.48 390.22 497.00 392.60C498.52 394.98 499.63 396.93 500.80 399.00C501.97 401.07 502.88 402.33 504.00 405.00C505.12 407.67 506.50 411.67 507.50 415.00C508.50 418.33 509.33 421.67 510.00 425.00C510.67 428.33 511.08 431.67 511.50 435.00C511.92 438.33 512.28 440.83 512.50 445.00C512.72 449.17 512.80 455.00 512.80 460.00C512.80 465.00 512.72 470.83 512.50 475.00C512.28 479.17 511.92 481.67 511.50 485.00C511.08 488.33 510.67 491.67 510.00 495.00C509.33 498.33 508.50 501.67 507.50 505.00C506.50 508.33 505.12 512.33 504.00 515.00C502.88 517.67 501.97 518.93 500.80 521.00C499.63 523.07 498.52 525.02 497.00 527.40C495.48 529.78 493.49 532.63 491.70 535.30C489.91 537.97 488.10 541.03 486.25 543.40C484.40 545.77 482.94 547.07 480.60 549.50C478.26 551.93 475.02 555.38 472.20 558.00C469.38 560.62 465.95 563.63 463.70 565.20C461.45 566.77 460.65 566.72 458.70 567.40C456.75 568.08 455.12 568.43 452.00 569.30C448.88 570.17 444.50 571.69 440.00 572.60C435.50 573.51 430.00 574.30 425.00 574.76C420.00 575.22 415.00 575.30 410.00 575.38C405.00 575.46 399.50 575.44 395.00 575.22C390.50 575.00 387.25 574.70 383.00 574.06C378.75 573.42 373.75 572.45 369.50 571.40C365.25 570.35 361.50 569.15 357.50 567.75C353.50 566.35 349.25 564.60 345.50 562.98C341.75 561.36 339.25 560.16 335.00 558.04C330.75 555.92 323.33 551.98 320.00 550.24C316.67 548.50 317.92 549.09 315.00 547.58C312.08 546.07 306.67 543.16 302.50 541.20C298.33 539.24 294.17 537.72 290.00 535.82C285.83 533.92 281.67 531.76 277.50 529.80C273.33 527.84 269.17 525.96 265.00 524.06C260.83 522.16 256.67 520.28 252.50 518.42C248.33 516.56 244.58 514.97 240.00 512.88C235.42 510.79 229.17 508.21 225.00 505.90C220.83 503.59 218.12 501.75 215.00 499.00C211.88 496.25 208.35 492.61 206.25 489.38C204.15 486.15 203.49 482.90 202.40 479.64C201.31 476.38 200.30 473.09 199.70 469.82C199.10 466.55 198.80 463.27 198.80 460.00Z" fill="#efc210"/>
<path class="k" fill-rule="evenodd" d="M197.9 460.0L197.9 458.3L198.0 456.7L198.1 455.0L198.3 453.3L198.5 451.7L198.8 450.0L199.2 448.3L199.6 446.7L200.0 445.0L200.5 443.4L201.0 441.7L201.5 440.1L202.1 438.5L202.6 436.8L203.1 435.2L203.7 433.5L204.5 431.8L205.5 430.1L206.7 428.4L208.1 426.7L209.6 425.0L211.2 423.4L212.8 421.8L214.4 420.3L216.0 419.0L217.5 417.8L219.1 416.6L220.8 415.5L222.6 414.4L224.6 413.3L226.8 412.1L229.3 410.9L232.0 409.7L234.6 408.5L237.2 407.4L239.6 406.3L241.9 405.3L244.0 404.3L246.0 403.4L248.1 402.6L250.1 401.7L252.1 400.8L254.2 399.8L256.3 398.9L258.4 398.0L260.5 397.0L262.5 396.1L264.6 395.1L266.7 394.2L268.8 393.2L270.9 392.3L273.0 391.3L275.0 390.4L277.1 389.4L279.2 388.4L281.3 387.4L283.4 386.4L285.4 385.3L287.5 384.3L289.6 383.4L291.7 382.4L293.8 381.5L295.9 380.7L298.0 379.8L300.1 378.9L302.1 378.0L304.3 376.9L306.5 375.8L308.8 374.6L311.0 373.5L312.9 372.5L314.6 371.6L315.7 371.0L316.4 370.7L316.9 370.4L317.4 370.1L318.3 369.7L319.6 369.0L321.6 367.9L324.0 366.6L326.7 365.2L329.5 363.7L332.2 362.4L334.6 361.2L336.6 360.2L338.4 359.3L340.1 358.5L341.7 357.7L343.4 357.0L345.1 356.2L347.1 355.4L349.0 354.5L351.1 353.7L353.1 352.9L355.2 352.1L357.2 351.4L359.2 350.7L361.2 350.1L363.1 349.4L365.1 348.8L367.2 348.3L369.3 347.7L371.5 347.2L373.8 346.7L376.1 346.2L378.4 345.8L380.7 345.4L382.9 345.1L384.9 344.8L386.9 344.5L388.8 344.3L390.8 344.1L392.8 344.0L395.0 343.9L397.3 343.8L399.8 343.7L402.3 343.7L404.9 343.7L407.5 343.7L410.0 343.7L412.5 343.8L415.0 343.8L417.5 343.9L420.0 344.0L422.6 344.1L425.1 344.3L427.6 344.6L430.2 344.9L432.8 345.3L435.4 345.6L437.8 346.1L440.2 346.5L442.4 347.0L444.7 347.6L446.8 348.2L448.8 348.8L450.6 349.4L452.2 349.8L453.7 350.2L454.9 350.6L456.0 350.9L457.0 351.1L458.0 351.4L459.0 351.7L459.9 352.0L460.6 352.3L461.4 352.5L462.2 352.9L463.1 353.4L464.2 354.1L465.5 355.0L466.8 356.1L468.3 357.3L469.8 358.6L471.4 360.0L472.8 361.3L474.3 362.7L475.7 364.2L477.2 365.7L478.7 367.2L480.0 368.6L481.2 369.9L482.3 371.0L483.3 372.0L484.3 373.0L485.1 373.9L486.0 374.9L487.0 376.0L487.9 377.3L488.8 378.7L489.8 380.0L490.7 381.5L491.6 382.8L492.4 384.2L493.4 385.5L494.3 386.9L495.2 388.3L496.1 389.6L497.0 390.9L497.8 392.1L498.5 393.3L499.2 394.4L499.8 395.5L500.4 396.5L501.0 397.5L501.6 398.6L502.1 399.5L502.7 400.4L503.2 401.3L503.7 402.3L504.3 403.4L504.8 404.7L505.4 406.1L506.0 407.7L506.6 409.5L507.3 411.2L507.8 413.0L508.4 414.7L508.9 416.4L509.3 418.1L509.7 419.8L510.2 421.5L510.5 423.1L510.9 424.8L511.2 426.5L511.5 428.2L511.7 429.9L512.0 431.5L512.2 433.2L512.4 434.9L512.6 436.5L512.8 438.0L513.0 439.6L513.1 441.2L513.3 443.0L513.4 445.0L513.5 447.2L513.6 449.6L513.6 452.2L513.7 454.8L513.7 457.4L513.7 460.0L513.7 462.6L513.7 465.2L513.6 467.8L513.6 470.4L513.5 472.8L513.4 475.0L513.3 477.0L513.1 478.8L513.0 480.4L512.8 482.0L512.6 483.5L512.4 485.1L512.2 486.8L512.0 488.5L511.7 490.1L511.5 491.8L511.2 493.5L510.9 495.2L510.5 496.9L510.2 498.5L509.7 500.2L509.3 501.9L508.9 503.6L508.4 505.3L507.8 507.0L507.3 508.8L506.6 510.5L506.0 512.3L505.4 513.9L504.8 515.3L504.3 516.6L503.7 517.7L503.2 518.7L502.7 519.6L502.1 520.5L501.6 521.4L501.0 522.5L500.4 523.5L499.8 524.5L499.2 525.6L498.5 526.7L497.8 527.9L497.0 529.1L496.1 530.4L495.2 531.7L494.3 533.1L493.4 534.5L492.4 535.8L491.6 537.2L490.7 538.5L489.8 540.0L488.8 541.3L487.9 542.7L487.0 544.0L486.0 545.1L485.1 546.1L484.3 547.0L483.3 548.0L482.3 549.0L481.2 550.1L480.0 551.4L478.7 552.8L477.2 554.3L475.7 555.8L474.3 557.3L472.8 558.7L471.4 560.0L469.8 561.4L468.3 562.7L466.8 563.9L465.5 565.0L464.2 565.9L463.1 566.6L462.2 567.1L461.4 567.5L460.6 567.7L459.9 568.0L459.0 568.3L458.0 568.6L457.0 568.9L456.0 569.1L454.9 569.4L453.7 569.8L452.2 570.2L450.6 570.6L448.8 571.2L446.8 571.8L444.7 572.4L442.4 573.0L440.2 573.5L437.8 573.9L435.4 574.4L432.8 574.7L430.2 575.1L427.6 575.4L425.1 575.7L422.6 575.9L420.0 576.0L417.5 576.1L415.0 576.2L412.5 576.2L410.0 576.3L407.5 576.3L404.9 576.3L402.3 576.3L399.8 576.3L397.3 576.2L395.0 576.1L392.8 576.0L390.8 575.9L388.8 575.7L386.9 575.5L384.9 575.2L382.9 574.9L380.7 574.6L378.4 574.2L376.1 573.8L373.8 573.3L371.5 572.8L369.3 572.3L367.2 571.7L365.1 571.2L363.1 570.6L361.2 569.9L359.2 569.3L357.2 568.6L355.2 567.9L353.1 567.1L351.1 566.3L349.0 565.5L347.1 564.6L345.1 563.8L343.4 563.0L341.7 562.3L340.1 561.5L338.4 560.7L336.6 559.8L334.6 558.8L332.2 557.6L329.5 556.3L326.7 554.8L324.0 553.4L321.6 552.1L319.6 551.0L318.3 550.3L317.4 549.9L316.9 549.6L316.4 549.3L315.7 549.0L314.6 548.4L312.9 547.5L311.0 546.5L308.8 545.4L306.5 544.2L304.3 543.1L302.1 542.0L300.1 541.1L298.0 540.2L295.9 539.3L293.8 538.5L291.7 537.6L289.6 536.6L287.5 535.7L285.4 534.7L283.4 533.6L281.3 532.6L279.2 531.6L277.1 530.6L275.0 529.6L273.0 528.7L270.9 527.7L268.8 526.8L266.7 525.8L264.6 524.9L262.5 523.9L260.5 523.0L258.4 522.0L256.3 521.1L254.2 520.2L252.1 519.2L250.1 518.3L248.1 517.4L246.0 516.6L244.0 515.7L241.9 514.7L239.6 513.7L237.2 512.6L234.6 511.5L232.0 510.3L229.3 509.1L226.8 507.9L224.6 506.7L222.6 505.6L220.8 504.5L219.1 503.4L217.5 502.2L216.0 501.0L214.4 499.7L212.8 498.2L211.2 496.6L209.6 495.0L208.1 493.3L206.7 491.6L205.5 489.9L204.5 488.2L203.7 486.5L203.1 484.8L202.6 483.2L202.1 481.5L201.5 479.9L201.0 478.3L200.5 476.6L200.0 475.0L199.6 473.3L199.2 471.7L198.8 470.0L198.5 468.3L198.3 466.7L198.1 465.0L198.0 463.3L197.9 461.7ZM199.7 460.0L199.7 458.4L199.8 456.8L199.9 455.2L200.1 453.6L200.3 452.0L200.6 450.3L200.9 448.7L201.3 447.1L201.7 445.5L202.2 443.9L202.7 442.3L203.3 440.6L203.8 439.0L204.3 437.4L204.8 435.8L205.4 434.2L206.1 432.7L207.0 431.1L208.1 429.5L209.4 427.9L210.9 426.2L212.4 424.6L214.0 423.1L215.6 421.7L217.1 420.4L218.6 419.2L220.1 418.1L221.7 417.1L223.5 416.0L225.4 414.9L227.6 413.7L230.1 412.5L232.7 411.3L235.4 410.2L238.0 409.0L240.4 407.9L242.6 406.9L244.7 406.0L246.8 405.1L248.8 404.2L250.8 403.3L252.9 402.4L255.0 401.5L257.0 400.5L259.1 399.6L261.2 398.7L263.3 397.7L265.4 396.8L267.5 395.8L269.5 394.9L271.6 393.9L273.7 393.0L275.8 392.0L277.9 391.0L280.0 390.0L282.1 389.0L284.1 388.0L286.2 387.0L288.3 386.0L290.4 385.0L292.4 384.1L294.5 383.2L296.6 382.3L298.7 381.5L300.8 380.6L302.9 379.6L305.1 378.6L307.4 377.4L309.6 376.2L311.8 375.1L313.8 374.1L315.4 373.2L316.6 372.6L317.3 372.2L317.8 372.0L318.3 371.7L319.1 371.3L320.4 370.6L322.4 369.5L324.8 368.2L327.6 366.8L330.4 365.3L333.1 364.0L335.4 362.8L337.4 361.8L339.2 360.9L340.8 360.1L342.4 359.4L344.1 358.6L345.9 357.8L347.8 357.0L349.7 356.2L351.7 355.4L353.8 354.6L355.8 353.8L357.8 353.1L359.8 352.4L361.7 351.8L363.7 351.2L365.6 350.6L367.6 350.0L369.7 349.5L371.9 349.0L374.1 348.5L376.4 348.0L378.7 347.6L381.0 347.2L383.1 346.8L385.2 346.5L387.1 346.3L389.0 346.1L390.9 345.9L392.9 345.8L395.0 345.7L397.4 345.6L399.8 345.5L402.3 345.5L404.9 345.5L407.5 345.5L410.0 345.5L412.5 345.6L415.0 345.6L417.5 345.7L420.0 345.8L422.4 345.9L424.9 346.1L427.4 346.4L430.0 346.7L432.6 347.0L435.1 347.4L437.5 347.8L439.8 348.3L442.0 348.8L444.2 349.3L446.3 349.9L448.2 350.5L450.1 351.1L451.8 351.6L453.2 352.0L454.5 352.3L455.6 352.6L456.5 352.9L457.5 353.1L458.4 353.5L459.3 353.7L460.1 354.0L460.8 354.2L461.4 354.5L462.2 354.9L463.2 355.5L464.4 356.4L465.7 357.5L467.2 358.7L468.6 360.0L470.1 361.3L471.6 362.7L473.0 364.0L474.5 365.5L475.9 366.9L477.4 368.4L478.7 369.8L480.0 371.1L481.1 372.3L482.1 373.3L483.0 374.2L483.8 375.1L484.7 376.1L485.5 377.2L486.4 378.4L487.3 379.7L488.2 381.0L489.1 382.4L490.0 383.8L491.0 385.2L491.9 386.6L492.8 387.9L493.7 389.3L494.6 390.6L495.5 391.9L496.2 393.1L497.0 394.2L497.6 395.3L498.3 396.4L498.9 397.4L499.4 398.4L500.0 399.4L500.6 400.4L501.1 401.3L501.6 402.2L502.1 403.1L502.6 404.2L503.2 405.3L503.7 406.8L504.3 408.3L504.9 410.0L505.5 411.8L506.1 413.6L506.6 415.3L507.1 416.9L507.6 418.6L508.0 420.2L508.4 421.9L508.8 423.5L509.1 425.2L509.4 426.8L509.7 428.5L510.0 430.1L510.2 431.8L510.4 433.4L510.6 435.1L510.8 436.7L511.0 438.3L511.2 439.8L511.3 441.4L511.5 443.1L511.6 445.0L511.7 447.2L511.8 449.7L511.8 452.2L511.9 454.8L511.9 457.4L511.9 460.0L511.9 462.6L511.9 465.2L511.8 467.8L511.8 470.3L511.7 472.8L511.6 475.0L511.5 476.9L511.3 478.6L511.2 480.2L511.0 481.7L510.8 483.3L510.6 484.9L510.4 486.6L510.2 488.2L510.0 489.9L509.7 491.5L509.4 493.2L509.1 494.8L508.8 496.5L508.4 498.1L508.0 499.8L507.6 501.4L507.1 503.1L506.6 504.7L506.1 506.4L505.5 508.2L504.9 510.0L504.3 511.7L503.7 513.2L503.2 514.7L502.6 515.8L502.1 516.9L501.6 517.8L501.1 518.7L500.6 519.6L500.0 520.6L499.4 521.6L498.9 522.6L498.3 523.6L497.6 524.7L497.0 525.8L496.2 526.9L495.5 528.1L494.6 529.4L493.7 530.7L492.8 532.1L491.9 533.4L491.0 534.8L490.0 536.2L489.1 537.6L488.2 539.0L487.3 540.3L486.4 541.6L485.5 542.8L484.7 543.9L483.8 544.9L483.0 545.8L482.1 546.7L481.1 547.7L480.0 548.9L478.7 550.2L477.4 551.6L475.9 553.1L474.5 554.5L473.0 556.0L471.6 557.3L470.1 558.7L468.6 560.0L467.2 561.3L465.7 562.5L464.4 563.6L463.2 564.5L462.2 565.1L461.4 565.5L460.8 565.8L460.1 566.0L459.3 566.3L458.4 566.5L457.5 566.9L456.5 567.1L455.6 567.4L454.5 567.7L453.2 568.0L451.8 568.4L450.1 568.9L448.2 569.5L446.3 570.1L444.2 570.7L442.0 571.2L439.8 571.7L437.5 572.2L435.1 572.6L432.6 573.0L430.0 573.3L427.4 573.6L424.9 573.9L422.4 574.1L420.0 574.2L417.5 574.3L415.0 574.4L412.5 574.4L410.0 574.5L407.5 574.5L404.9 574.5L402.3 574.5L399.8 574.5L397.4 574.4L395.0 574.3L392.9 574.2L390.9 574.1L389.0 573.9L387.1 573.7L385.2 573.5L383.1 573.2L381.0 572.8L378.7 572.4L376.4 572.0L374.1 571.5L371.9 571.0L369.7 570.5L367.6 570.0L365.6 569.4L363.7 568.8L361.7 568.2L359.8 567.6L357.8 566.9L355.8 566.2L353.8 565.4L351.7 564.6L349.7 563.8L347.8 563.0L345.9 562.2L344.1 561.4L342.4 560.6L340.8 559.9L339.2 559.1L337.4 558.2L335.4 557.2L333.1 556.0L330.4 554.7L327.6 553.2L324.8 551.8L322.4 550.5L320.4 549.4L319.1 548.7L318.3 548.3L317.8 548.0L317.3 547.8L316.6 547.4L315.4 546.8L313.8 545.9L311.8 544.9L309.6 543.8L307.4 542.6L305.1 541.4L302.9 540.4L300.8 539.4L298.7 538.5L296.6 537.7L294.5 536.8L292.4 535.9L290.4 535.0L288.3 534.0L286.2 533.0L284.1 532.0L282.1 531.0L280.0 530.0L277.9 529.0L275.8 528.0L273.7 527.0L271.6 526.1L269.5 525.1L267.5 524.2L265.4 523.2L263.3 522.3L261.2 521.3L259.1 520.4L257.0 519.5L255.0 518.5L252.9 517.6L250.8 516.7L248.8 515.8L246.8 514.9L244.7 514.0L242.6 513.1L240.4 512.1L238.0 511.0L235.4 509.8L232.7 508.7L230.1 507.5L227.6 506.3L225.4 505.1L223.5 504.0L221.7 502.9L220.1 501.9L218.6 500.8L217.1 499.6L215.6 498.3L214.0 496.9L212.4 495.4L210.9 493.8L209.4 492.1L208.1 490.5L207.0 488.9L206.1 487.3L205.4 485.8L204.8 484.2L204.3 482.6L203.8 481.0L203.3 479.4L202.7 477.7L202.2 476.1L201.7 474.5L201.3 472.9L200.9 471.3L200.6 469.7L200.3 468.0L200.1 466.4L199.9 464.8L199.8 463.2L199.7 461.6Z"/>
<path d="M216.90 460.00C216.90 457.58 216.98 455.18 217.50 452.74C218.02 450.30 218.75 447.60 220.00 445.37C221.25 443.14 222.92 441.30 225.00 439.39C227.08 437.48 230.00 435.50 232.50 433.90C235.00 432.29 236.67 431.44 240.00 429.76C243.33 428.08 248.33 425.81 252.50 423.83C256.67 421.85 260.83 419.88 265.00 417.90C269.17 415.92 273.33 413.95 277.50 411.97C281.67 409.99 285.83 408.02 290.00 406.04C294.17 404.06 298.33 402.09 302.50 400.11C306.67 398.13 310.83 396.16 315.00 394.18C319.17 392.20 324.17 389.78 327.50 388.25C330.83 386.72 332.92 385.80 335.00 385.00C337.08 384.20 337.92 383.91 340.00 383.43C342.08 382.95 345.00 382.42 347.50 382.13C350.00 381.84 352.08 381.61 355.00 381.70C357.92 381.79 362.08 382.25 365.00 382.70C367.92 383.15 370.00 383.70 372.50 384.40C375.00 385.10 377.50 385.90 380.00 386.90C382.50 387.90 385.00 388.98 387.50 390.40C390.00 391.82 392.50 393.38 395.00 395.40C397.50 397.42 400.21 399.97 402.50 402.50C404.79 405.03 406.88 407.68 408.75 410.60C410.62 413.52 412.29 416.56 413.75 420.00C415.21 423.44 416.46 427.08 417.50 431.25C418.54 435.42 419.43 440.21 420.00 445.00C420.57 449.79 420.90 455.00 420.90 460.00C420.90 465.00 420.57 470.21 420.00 475.00C419.43 479.79 418.54 484.58 417.50 488.75C416.46 492.92 415.21 496.56 413.75 500.00C412.29 503.44 410.62 506.48 408.75 509.40C406.88 512.32 404.79 514.97 402.50 517.50C400.21 520.03 397.50 522.58 395.00 524.60C392.50 526.62 390.00 528.18 387.50 529.60C385.00 531.02 382.50 532.10 380.00 533.10C377.50 534.10 375.00 534.90 372.50 535.60C370.00 536.30 367.92 536.85 365.00 537.30C362.08 537.75 357.92 538.20 355.00 538.30C352.08 538.39 350.00 538.16 347.50 537.87C345.00 537.58 342.08 537.05 340.00 536.57C337.92 536.09 337.08 535.80 335.00 535.00C332.92 534.20 330.83 533.28 327.50 531.75C324.17 530.22 319.17 527.80 315.00 525.82C310.83 523.84 306.67 521.87 302.50 519.89C298.33 517.91 294.17 515.94 290.00 513.96C285.83 511.98 281.67 510.01 277.50 508.03C273.33 506.05 269.17 504.08 265.00 502.10C260.83 500.12 256.67 498.15 252.50 496.17C248.33 494.19 243.33 491.92 240.00 490.24C236.67 488.56 235.00 487.71 232.50 486.10C230.00 484.50 227.08 482.52 225.00 480.61C222.92 478.70 221.25 476.86 220.00 474.63C218.75 472.40 218.02 469.70 217.50 467.26C216.98 464.82 216.90 462.42 216.90 460.00Z" fill="#f3a61f"/>
<path class="k" fill-rule="evenodd" d="M216.0 460.0L216.0 458.8L216.0 457.5L216.1 456.3L216.2 455.1L216.4 453.8L216.6 452.6L216.9 451.3L217.2 450.0L217.6 448.7L218.1 447.4L218.6 446.1L219.2 444.9L219.9 443.8L220.7 442.7L221.5 441.7L222.4 440.7L223.4 439.7L224.4 438.7L225.5 437.7L226.8 436.8L228.1 435.8L229.4 434.9L230.7 434.0L232.0 433.1L233.2 432.4L234.4 431.7L235.5 431.1L236.7 430.4L238.1 429.7L239.6 429.0L241.4 428.1L243.4 427.1L245.6 426.1L247.8 425.1L250.0 424.0L252.1 423.0L254.2 422.0L256.3 421.0L258.4 420.1L260.4 419.1L262.5 418.1L264.6 417.1L266.7 416.1L268.8 415.1L270.9 414.1L272.9 413.1L275.0 412.1L277.1 411.2L279.2 410.2L281.3 409.2L283.4 408.2L285.4 407.2L287.5 406.2L289.6 405.2L291.7 404.2L293.8 403.3L295.9 402.3L297.9 401.3L300.0 400.3L302.1 399.3L304.2 398.3L306.3 397.3L308.4 396.3L310.4 395.3L312.5 394.4L314.6 393.4L316.8 392.3L319.0 391.3L321.2 390.2L323.3 389.2L325.3 388.3L327.1 387.4L328.7 386.7L330.1 386.1L331.4 385.5L332.5 385.0L333.6 384.6L334.7 384.2L335.6 383.8L336.5 383.5L337.2 383.2L338.0 383.0L338.8 382.8L339.8 382.6L340.9 382.3L342.1 382.1L343.4 381.8L344.8 381.6L346.1 381.4L347.4 381.2L348.6 381.1L349.8 381.0L351.0 380.9L352.3 380.8L353.6 380.8L355.0 380.8L356.6 380.9L358.3 381.0L360.1 381.2L361.9 381.4L363.6 381.6L365.1 381.8L366.6 382.0L367.9 382.3L369.1 382.6L370.3 382.9L371.5 383.2L372.7 383.5L374.0 383.9L375.3 384.3L376.5 384.7L377.8 385.1L379.1 385.6L380.3 386.1L381.6 386.6L382.9 387.1L384.1 387.7L385.4 388.3L386.7 388.9L387.9 389.6L389.2 390.3L390.5 391.1L391.7 391.9L393.0 392.8L394.3 393.7L395.6 394.7L396.8 395.8L398.1 396.9L399.4 398.1L400.7 399.3L402.0 400.6L403.2 401.9L404.3 403.2L405.4 404.5L406.5 405.9L407.5 407.2L408.5 408.7L409.5 410.1L410.4 411.6L411.3 413.1L412.2 414.7L413.0 416.3L413.8 417.9L414.6 419.6L415.3 421.4L416.0 423.2L416.6 425.1L417.2 427.0L417.8 429.0L418.4 431.0L418.9 433.2L419.4 435.4L419.8 437.7L420.2 440.1L420.6 442.5L420.9 444.9L421.2 447.3L421.4 449.8L421.6 452.4L421.7 454.9L421.8 457.5L421.8 460.0L421.8 462.5L421.7 465.1L421.6 467.6L421.4 470.2L421.2 472.7L420.9 475.1L420.6 477.5L420.2 479.9L419.8 482.3L419.4 484.6L418.9 486.8L418.4 489.0L417.8 491.0L417.2 493.0L416.6 494.9L416.0 496.8L415.3 498.6L414.6 500.4L413.8 502.1L413.0 503.7L412.2 505.3L411.3 506.9L410.4 508.4L409.5 509.9L408.5 511.3L407.5 512.8L406.5 514.1L405.4 515.5L404.3 516.8L403.2 518.1L402.0 519.4L400.7 520.7L399.4 521.9L398.1 523.1L396.8 524.2L395.6 525.3L394.3 526.3L393.0 527.2L391.7 528.1L390.5 528.9L389.2 529.7L387.9 530.4L386.7 531.1L385.4 531.7L384.1 532.3L382.9 532.9L381.6 533.4L380.3 533.9L379.1 534.4L377.8 534.9L376.5 535.3L375.3 535.7L374.0 536.1L372.7 536.5L371.5 536.8L370.3 537.1L369.1 537.4L367.9 537.7L366.6 538.0L365.1 538.2L363.6 538.4L361.9 538.6L360.1 538.8L358.3 539.0L356.6 539.1L355.0 539.2L353.6 539.2L352.3 539.2L351.0 539.1L349.8 539.0L348.6 538.9L347.4 538.8L346.1 538.6L344.8 538.4L343.4 538.2L342.1 537.9L340.9 537.7L339.8 537.4L338.8 537.2L338.0 537.0L337.2 536.8L336.5 536.5L335.6 536.2L334.7 535.8L333.6 535.4L332.5 535.0L331.4 534.5L330.1 533.9L328.7 533.3L327.1 532.6L325.3 531.7L323.3 530.8L321.2 529.8L319.0 528.7L316.8 527.7L314.6 526.6L312.5 525.6L310.4 524.7L308.4 523.7L306.3 522.7L304.2 521.7L302.1 520.7L300.0 519.7L297.9 518.7L295.9 517.7L293.8 516.7L291.7 515.8L289.6 514.8L287.5 513.8L285.4 512.8L283.4 511.8L281.3 510.8L279.2 509.8L277.1 508.8L275.0 507.9L272.9 506.9L270.9 505.9L268.8 504.9L266.7 503.9L264.6 502.9L262.5 501.9L260.4 500.9L258.4 499.9L256.3 499.0L254.2 498.0L252.1 497.0L250.0 496.0L247.8 494.9L245.6 493.9L243.4 492.9L241.4 491.9L239.6 491.0L238.1 490.3L236.7 489.6L235.5 488.9L234.4 488.3L233.2 487.6L232.0 486.9L230.7 486.0L229.4 485.1L228.1 484.2L226.8 483.2L225.5 482.3L224.4 481.3L223.4 480.3L222.4 479.3L221.5 478.3L220.7 477.3L219.9 476.2L219.2 475.1L218.6 473.9L218.1 472.6L217.6 471.3L217.2 470.0L216.9 468.7L216.6 467.4L216.4 466.2L216.2 464.9L216.1 463.7L216.0 462.5L216.0 461.2ZM217.8 460.0L217.8 458.8L217.8 457.6L217.9 456.4L218.0 455.3L218.2 454.1L218.4 452.9L218.7 451.7L219.0 450.5L219.3 449.3L219.8 448.0L220.2 446.9L220.8 445.8L221.4 444.8L222.1 443.8L222.9 442.8L223.7 441.9L224.6 441.0L225.6 440.1L226.7 439.1L227.9 438.2L229.1 437.3L230.4 436.4L231.7 435.5L233.0 434.7L234.2 433.9L235.3 433.3L236.4 432.6L237.5 432.0L238.9 431.3L240.4 430.6L242.2 429.7L244.2 428.7L246.3 427.7L248.5 426.7L250.7 425.7L252.9 424.6L255.0 423.7L257.1 422.7L259.1 421.7L261.2 420.7L263.3 419.7L265.4 418.7L267.5 417.7L269.6 416.7L271.6 415.7L273.7 414.8L275.8 413.8L277.9 412.8L280.0 411.8L282.1 410.8L284.1 409.8L286.2 408.8L288.3 407.8L290.4 406.9L292.5 405.9L294.6 404.9L296.6 403.9L298.7 402.9L300.8 401.9L302.9 400.9L305.0 399.9L307.1 398.9L309.1 398.0L311.2 397.0L313.3 396.0L315.4 395.0L317.5 394.0L319.7 392.9L321.9 391.9L324.1 390.8L326.1 389.9L327.9 389.1L329.4 388.4L330.8 387.7L332.1 387.2L333.2 386.7L334.3 386.2L335.3 385.8L336.3 385.5L337.1 385.2L337.8 385.0L338.5 384.7L339.3 384.5L340.2 384.3L341.3 384.1L342.5 383.8L343.7 383.6L345.0 383.4L346.3 383.2L347.6 383.0L348.8 382.9L350.0 382.8L351.2 382.7L352.3 382.6L353.6 382.6L355.0 382.6L356.5 382.7L358.2 382.8L359.9 383.0L361.7 383.2L363.3 383.4L364.9 383.6L366.2 383.8L367.5 384.1L368.7 384.3L369.9 384.6L371.0 384.9L372.3 385.3L373.5 385.6L374.7 386.0L376.0 386.4L377.2 386.8L378.4 387.3L379.7 387.7L380.9 388.2L382.1 388.8L383.4 389.3L384.6 389.9L385.8 390.5L387.1 391.2L388.3 391.9L389.5 392.6L390.8 393.4L392.0 394.3L393.2 395.1L394.4 396.1L395.7 397.1L396.9 398.2L398.2 399.4L399.5 400.6L400.7 401.9L401.8 403.1L402.9 404.4L404.0 405.6L405.1 407.0L406.1 408.3L407.1 409.7L408.0 411.1L408.9 412.5L409.8 414.0L410.6 415.5L411.4 417.1L412.2 418.7L412.9 420.4L413.6 422.1L414.3 423.8L414.9 425.6L415.5 427.5L416.1 429.4L416.6 431.5L417.1 433.6L417.6 435.8L418.0 438.1L418.4 440.4L418.8 442.7L419.1 445.1L419.4 447.5L419.6 450.0L419.8 452.5L419.9 455.0L420.0 457.5L420.0 460.0L420.0 462.5L419.9 465.0L419.8 467.5L419.6 470.0L419.4 472.5L419.1 474.9L418.8 477.3L418.4 479.6L418.0 481.9L417.6 484.2L417.1 486.4L416.6 488.5L416.1 490.6L415.5 492.5L414.9 494.4L414.3 496.2L413.6 497.9L412.9 499.6L412.2 501.3L411.4 502.9L410.6 504.5L409.8 506.0L408.9 507.5L408.0 508.9L407.1 510.3L406.1 511.7L405.1 513.0L404.0 514.4L402.9 515.6L401.8 516.9L400.7 518.1L399.5 519.4L398.2 520.6L396.9 521.8L395.7 522.9L394.4 523.9L393.2 524.9L392.0 525.7L390.8 526.6L389.5 527.4L388.3 528.1L387.1 528.8L385.8 529.5L384.6 530.1L383.4 530.7L382.1 531.2L380.9 531.8L379.7 532.3L378.4 532.7L377.2 533.2L376.0 533.6L374.7 534.0L373.5 534.4L372.3 534.7L371.0 535.1L369.9 535.4L368.7 535.7L367.5 535.9L366.2 536.2L364.9 536.4L363.3 536.6L361.7 536.8L359.9 537.0L358.2 537.2L356.5 537.3L355.0 537.4L353.6 537.4L352.3 537.4L351.2 537.3L350.0 537.2L348.8 537.1L347.6 537.0L346.3 536.8L345.0 536.6L343.7 536.4L342.5 536.2L341.3 535.9L340.2 535.7L339.3 535.5L338.5 535.3L337.8 535.0L337.1 534.8L336.3 534.5L335.3 534.2L334.3 533.8L333.2 533.3L332.1 532.8L330.8 532.3L329.4 531.6L327.9 530.9L326.1 530.1L324.1 529.2L321.9 528.1L319.7 527.1L317.5 526.0L315.4 525.0L313.3 524.0L311.2 523.0L309.1 522.0L307.1 521.1L305.0 520.1L302.9 519.1L300.8 518.1L298.7 517.1L296.6 516.1L294.6 515.1L292.5 514.1L290.4 513.1L288.3 512.2L286.2 511.2L284.1 510.2L282.1 509.2L280.0 508.2L277.9 507.2L275.8 506.2L273.7 505.2L271.6 504.3L269.6 503.3L267.5 502.3L265.4 501.3L263.3 500.3L261.2 499.3L259.1 498.3L257.1 497.3L255.0 496.3L252.9 495.4L250.7 494.3L248.5 493.3L246.3 492.3L244.2 491.3L242.2 490.3L240.4 489.4L238.9 488.7L237.5 488.0L236.4 487.4L235.3 486.7L234.2 486.1L233.0 485.3L231.7 484.5L230.4 483.6L229.1 482.7L227.9 481.8L226.7 480.9L225.6 479.9L224.6 479.0L223.7 478.1L222.9 477.2L222.1 476.2L221.4 475.2L220.8 474.2L220.2 473.1L219.8 472.0L219.3 470.7L219.0 469.5L218.7 468.3L218.4 467.1L218.2 465.9L218.0 464.7L217.9 463.6L217.8 462.4L217.8 461.2Z"/>
<path d="M241.50 460.00C241.50 458.33 241.53 456.44 241.90 455.00C242.28 453.56 242.82 452.46 243.75 451.36C244.68 450.26 246.04 449.38 247.50 448.43C248.96 447.49 249.58 447.34 252.50 445.69C255.42 444.04 260.83 440.90 265.00 438.51C269.17 436.12 273.75 433.49 277.50 431.33C281.25 429.17 284.38 427.16 287.50 425.58C290.62 424.00 293.33 422.85 296.25 421.85C299.17 420.85 301.88 420.18 305.00 419.60C308.12 419.02 311.88 418.57 315.00 418.35C318.12 418.13 321.04 418.09 323.75 418.27C326.46 418.44 328.75 418.69 331.25 419.40C333.75 420.10 336.46 421.25 338.75 422.50C341.04 423.75 343.23 425.13 345.00 426.90C346.77 428.67 348.05 430.92 349.40 433.10C350.75 435.28 352.12 437.18 353.10 440.00C354.08 442.82 354.77 446.67 355.25 450.00C355.73 453.33 356.00 456.67 356.00 460.00C356.00 463.33 355.73 466.67 355.25 470.00C354.77 473.33 354.08 477.18 353.10 480.00C352.12 482.82 350.75 484.72 349.40 486.90C348.05 489.08 346.77 491.33 345.00 493.10C343.23 494.87 341.04 496.25 338.75 497.50C336.46 498.75 333.75 499.90 331.25 500.60C328.75 501.31 326.46 501.56 323.75 501.73C321.04 501.91 318.12 501.87 315.00 501.65C311.88 501.43 308.12 500.98 305.00 500.40C301.88 499.82 299.17 499.15 296.25 498.15C293.33 497.15 290.62 496.00 287.50 494.42C284.38 492.84 281.25 490.83 277.50 488.67C273.75 486.51 269.17 483.88 265.00 481.49C260.83 479.10 255.42 475.96 252.50 474.31C249.58 472.66 248.96 472.51 247.50 471.57C246.04 470.62 244.68 469.74 243.75 468.64C242.82 467.54 242.28 466.44 241.90 465.00C241.53 463.56 241.50 461.67 241.50 460.00Z" fill="#f08507"/>
<path class="k" fill-rule="evenodd" d="M240.6 460.0L240.6 459.1L240.6 458.3L240.7 457.4L240.7 456.5L240.9 455.6L241.0 454.8L241.2 454.0L241.5 453.3L241.8 452.6L242.2 452.0L242.6 451.4L243.1 450.8L243.6 450.2L244.2 449.6L244.9 449.1L245.6 448.6L246.3 448.1L247.0 447.7L247.7 447.2L248.4 446.9L249.0 446.5L249.8 446.1L250.8 445.6L252.1 444.9L253.7 444.0L255.7 442.8L257.8 441.6L260.1 440.3L262.4 439.0L264.6 437.7L266.7 436.5L268.8 435.3L271.0 434.1L273.1 432.8L275.1 431.7L277.0 430.6L278.9 429.5L280.6 428.5L282.3 427.5L283.9 426.5L285.5 425.6L287.1 424.8L288.6 424.0L290.1 423.3L291.6 422.7L293.0 422.1L294.5 421.5L296.0 421.0L297.4 420.5L298.9 420.1L300.3 419.7L301.8 419.3L303.3 419.0L304.8 418.7L306.5 418.4L308.2 418.2L309.9 417.9L311.6 417.7L313.3 417.6L314.9 417.5L316.5 417.4L318.0 417.3L319.5 417.3L321.0 417.3L322.4 417.3L323.8 417.4L325.1 417.5L326.4 417.6L327.7 417.7L329.0 417.9L330.2 418.2L331.5 418.5L332.8 418.9L334.1 419.4L335.4 419.9L336.7 420.5L338.0 421.1L339.2 421.7L340.3 422.4L341.5 423.0L342.6 423.8L343.6 424.5L344.7 425.4L345.6 426.3L346.5 427.2L347.4 428.3L348.1 429.3L348.8 430.4L349.5 431.5L350.2 432.6L350.8 433.7L351.5 434.8L352.2 435.9L352.8 437.0L353.4 438.3L353.9 439.7L354.4 441.2L354.9 442.9L355.2 444.6L355.6 446.4L355.9 448.2L356.1 449.9L356.4 451.6L356.6 453.2L356.7 454.9L356.8 456.6L356.9 458.3L356.9 460.0L356.9 461.7L356.8 463.4L356.7 465.1L356.6 466.8L356.4 468.4L356.1 470.1L355.9 471.8L355.6 473.6L355.2 475.4L354.9 477.1L354.4 478.8L353.9 480.3L353.4 481.7L352.8 483.0L352.2 484.1L351.5 485.2L350.8 486.3L350.2 487.4L349.5 488.5L348.8 489.6L348.1 490.7L347.4 491.7L346.5 492.8L345.6 493.7L344.7 494.6L343.6 495.5L342.6 496.2L341.5 497.0L340.3 497.6L339.2 498.3L338.0 498.9L336.7 499.5L335.4 500.1L334.1 500.6L332.8 501.1L331.5 501.5L330.2 501.8L329.0 502.1L327.7 502.3L326.4 502.4L325.1 502.5L323.8 502.6L322.4 502.7L321.0 502.7L319.5 502.7L318.0 502.7L316.5 502.6L314.9 502.5L313.3 502.4L311.6 502.3L309.9 502.1L308.2 501.8L306.5 501.6L304.8 501.3L303.3 501.0L301.8 500.7L300.3 500.3L298.9 499.9L297.4 499.5L296.0 499.0L294.5 498.5L293.0 497.9L291.6 497.3L290.1 496.7L288.6 496.0L287.1 495.2L285.5 494.4L283.9 493.5L282.3 492.5L280.6 491.5L278.9 490.5L277.0 489.4L275.1 488.3L273.1 487.2L271.0 485.9L268.8 484.7L266.7 483.5L264.6 482.3L262.4 481.0L260.1 479.7L257.8 478.4L255.7 477.2L253.7 476.0L252.1 475.1L250.8 474.4L249.8 473.9L249.0 473.5L248.4 473.1L247.7 472.8L247.0 472.3L246.3 471.9L245.6 471.4L244.9 470.9L244.2 470.4L243.6 469.8L243.1 469.2L242.6 468.6L242.2 468.0L241.8 467.4L241.5 466.7L241.2 466.0L241.0 465.2L240.9 464.4L240.7 463.5L240.7 462.6L240.6 461.7L240.6 460.9ZM242.4 460.0L242.4 459.2L242.4 458.3L242.5 457.5L242.5 456.7L242.6 455.9L242.8 455.2L243.0 454.6L243.2 454.0L243.4 453.5L243.7 452.9L244.0 452.4L244.4 451.9L244.9 451.5L245.4 451.0L246.0 450.6L246.6 450.1L247.3 449.6L248.0 449.2L248.6 448.8L249.2 448.5L249.9 448.1L250.6 447.7L251.6 447.2L252.9 446.5L254.6 445.5L256.6 444.4L258.7 443.2L261.0 441.8L263.3 440.5L265.4 439.3L267.6 438.1L269.7 436.8L271.9 435.6L274.0 434.4L276.0 433.2L278.0 432.1L279.8 431.0L281.5 430.0L283.2 429.0L284.8 428.1L286.4 427.2L287.9 426.4L289.4 425.6L290.9 425.0L292.3 424.3L293.7 423.7L295.1 423.2L296.5 422.7L298.0 422.2L299.4 421.8L300.8 421.4L302.2 421.1L303.7 420.8L305.2 420.5L306.8 420.2L308.4 420.0L310.1 419.7L311.8 419.5L313.5 419.4L315.1 419.2L316.6 419.2L318.1 419.1L319.5 419.1L321.0 419.1L322.3 419.1L323.7 419.2L325.0 419.3L326.2 419.4L327.5 419.5L328.6 419.7L329.8 420.0L331.0 420.3L332.2 420.6L333.5 421.1L334.7 421.6L336.0 422.1L337.2 422.7L338.3 423.3L339.4 423.9L340.5 424.6L341.6 425.2L342.6 426.0L343.5 426.7L344.4 427.5L345.2 428.4L345.9 429.3L346.6 430.3L347.3 431.4L348.0 432.5L348.6 433.6L349.3 434.7L350.0 435.7L350.6 436.8L351.2 437.9L351.8 439.0L352.3 440.3L352.7 441.7L353.1 443.3L353.5 445.0L353.8 446.7L354.1 448.4L354.4 450.1L354.6 451.8L354.8 453.4L354.9 455.1L355.0 456.7L355.1 458.4L355.1 460.0L355.1 461.6L355.0 463.3L354.9 464.9L354.8 466.6L354.6 468.2L354.4 469.9L354.1 471.6L353.8 473.3L353.5 475.0L353.1 476.7L352.7 478.3L352.3 479.7L351.8 481.0L351.2 482.1L350.6 483.2L350.0 484.3L349.3 485.3L348.6 486.4L348.0 487.5L347.3 488.6L346.6 489.7L345.9 490.7L345.2 491.6L344.4 492.5L343.5 493.3L342.6 494.0L341.6 494.8L340.5 495.4L339.4 496.1L338.3 496.7L337.2 497.3L336.0 497.9L334.7 498.4L333.5 498.9L332.2 499.4L331.0 499.7L329.8 500.0L328.6 500.3L327.5 500.5L326.2 500.6L325.0 500.7L323.7 500.8L322.3 500.9L321.0 500.9L319.5 500.9L318.1 500.9L316.6 500.8L315.1 500.8L313.5 500.6L311.8 500.5L310.1 500.3L308.4 500.0L306.8 499.8L305.2 499.5L303.7 499.2L302.2 498.9L300.8 498.6L299.4 498.2L298.0 497.8L296.5 497.3L295.1 496.8L293.7 496.3L292.3 495.7L290.9 495.0L289.4 494.4L287.9 493.6L286.4 492.8L284.8 491.9L283.2 491.0L281.5 490.0L279.8 489.0L278.0 487.9L276.0 486.8L274.0 485.6L271.9 484.4L269.7 483.2L267.6 481.9L265.4 480.7L263.3 479.5L261.0 478.2L258.7 476.8L256.6 475.6L254.6 474.5L252.9 473.5L251.6 472.8L250.6 472.3L249.9 471.9L249.2 471.5L248.6 471.2L248.0 470.8L247.3 470.4L246.6 469.9L246.0 469.4L245.4 469.0L244.9 468.5L244.4 468.1L244.0 467.6L243.7 467.1L243.4 466.5L243.2 466.0L243.0 465.4L242.8 464.8L242.6 464.1L242.5 463.3L242.5 462.5L242.4 461.7L242.4 460.8Z"/>
</g>
<g class="l">
<text y="470"><tspan x="297.1" textLength="16.3" lengthAdjust="spacingAndGlyphs">8</tspan><tspan x="315.8" textLength="16.3" lengthAdjust="spacingAndGlyphs">8</tspan></text>
<text y="470"><tspan x="377.1" textLength="16.3" lengthAdjust="spacingAndGlyphs">5</tspan><tspan x="394.6" textLength="18.5" lengthAdjust="spacingAndGlyphs">0</tspan></text>
<text y="470"><tspan x="467.9" textLength="18.1" lengthAdjust="spacingAndGlyphs">1</tspan><tspan x="485.3" textLength="18.5" lengthAdjust="spacingAndGlyphs">0</tspan></text>
<text y="470"><tspan x="567.7" textLength="18.1" lengthAdjust="spacingAndGlyphs">1</tspan><tspan x="584.8" textLength="18.6" lengthAdjust="spacingAndGlyphs">0</tspan></text>
<text y="470"><tspan x="637.3" textLength="10.2" lengthAdjust="spacingAndGlyphs">.</tspan><tspan x="650.0" textLength="18.5" lengthAdjust="spacingAndGlyphs">2</tspan><tspan x="668.9" textLength="16.3" lengthAdjust="spacingAndGlyphs">5</tspan></text>
</g>
<g class="g">
<line x1="167.25" y1="185" x2="167.25" y2="711"/><line x1="345.5" y1="185" x2="345.5" y2="711"/><line x1="702.05" y1="185" x2="702.05" y2="711"/>
<line class="h" x1="122.5" y1="256" x2="771" y2="256"/><line class="h" x1="122.5" y1="324" x2="771" y2="324"/><line class="h" x1="122.5" y1="392" x2="771" y2="392"/><line class="h" x1="122.5" y1="460" x2="771" y2="460"/><line class="h" x1="122.5" y1="528" x2="771" y2="528"/><line class="h" x1="122.5" y1="596" x2="771" y2="596"/><line class="h" x1="122.5" y1="664" x2="771" y2="664"/>
</g>
<g class="t" clip-path="url(#cl)">
<text y="128"><tspan x="26.5" font-size="69" textLength="33.1" lengthAdjust="spacingAndGlyphs">É</tspan><tspan x="56.6" font-size="64" textLength="27.1" lengthAdjust="spacingAndGlyphs">c</tspan><tspan x="85.7" font-size="68" textLength="14.8" lengthAdjust="spacingAndGlyphs">l</tspan><tspan x="100.3" font-size="64" textLength="28.5" lengthAdjust="spacingAndGlyphs">a</tspan><tspan x="131.4" font-size="66" textLength="15.5" lengthAdjust="spacingAndGlyphs">i</tspan><tspan x="147.6" font-size="64" textLength="22.6" lengthAdjust="spacingAndGlyphs">r</tspan><tspan x="175.3" font-size="64" textLength="28.5" lengthAdjust="spacingAndGlyphs">a</tspan><tspan x="207.7" font-size="64" textLength="33.5" lengthAdjust="spacingAndGlyphs">g</tspan><tspan x="242.9" font-size="64" textLength="30.6" lengthAdjust="spacingAndGlyphs">e</tspan> <tspan x="287.9" font-size="68" textLength="14.2" lengthAdjust="spacingAndGlyphs">l</tspan><tspan x="305.3" font-size="64" textLength="28.5" lengthAdjust="spacingAndGlyphs">a</tspan><tspan x="338.3" font-size="64" textLength="22.6" lengthAdjust="spacingAndGlyphs">r</tspan><tspan x="361.4" font-size="64" textLength="33.5" lengthAdjust="spacingAndGlyphs">g</tspan><tspan x="391.6" font-size="64" textLength="30.6" lengthAdjust="spacingAndGlyphs">e</tspan> <tspan x="435.0" dy="-2.5" font-size="64" textLength="19.9" lengthAdjust="spacingAndGlyphs">-</tspan> <tspan x="479.8" dy="2.5" font-size="69" textLength="30.3" lengthAdjust="spacingAndGlyphs">F</tspan><tspan x="512.0" font-size="68" textLength="14.8" lengthAdjust="spacingAndGlyphs">l</tspan><tspan x="528.8" font-size="64" textLength="34.9" lengthAdjust="spacingAndGlyphs">o</tspan><tspan x="563.8" font-size="64" textLength="34.9" lengthAdjust="spacingAndGlyphs">o</tspan><tspan x="599.0" font-size="66" textLength="32.6" lengthAdjust="spacingAndGlyphs">d</tspan> <tspan x="646.7" font-size="66" textLength="34.4" lengthAdjust="spacingAndGlyphs">b</tspan><tspan x="684.5" font-size="64" textLength="29.2" lengthAdjust="spacingAndGlyphs">e</tspan><tspan x="714.2" font-size="64" textLength="28.5" lengthAdjust="spacingAndGlyphs">a</tspan><tspan x="745.8" font-size="64" textLength="48.0" lengthAdjust="spacingAndGlyphs">m</tspan></text>
</g>
<g class="l">
<text y="263"><tspan x="48.1" textLength="17.0" lengthAdjust="spacingAndGlyphs">2</tspan><tspan x="66.6" textLength="17.6" lengthAdjust="spacingAndGlyphs">2</tspan><tspan x="84.6" textLength="10.2" lengthAdjust="spacingAndGlyphs">.</tspan><tspan x="97.4" textLength="16.3" lengthAdjust="spacingAndGlyphs">5</tspan></text>
<text y="331"><tspan x="77.8" textLength="18.1" lengthAdjust="spacingAndGlyphs">1</tspan><tspan x="97.6" textLength="16.3" lengthAdjust="spacingAndGlyphs">5</tspan></text>
<text y="399"><tspan x="68.4" textLength="17.6" lengthAdjust="spacingAndGlyphs">7</tspan><tspan x="86.5" textLength="10.2" lengthAdjust="spacingAndGlyphs">.</tspan><tspan x="98.9" textLength="16.3" lengthAdjust="spacingAndGlyphs">5</tspan></text>
<text y="468"><tspan x="85.7" textLength="20.7" lengthAdjust="spacingAndGlyphs">0</tspan></text>
<text y="536"><tspan x="68.4" textLength="17.6" lengthAdjust="spacingAndGlyphs">7</tspan><tspan x="86.5" textLength="10.2" lengthAdjust="spacingAndGlyphs">.</tspan><tspan x="98.9" textLength="16.3" lengthAdjust="spacingAndGlyphs">5</tspan></text>
<text y="605"><tspan x="77.8" textLength="18.1" lengthAdjust="spacingAndGlyphs">1</tspan><tspan x="97.6" textLength="16.3" lengthAdjust="spacingAndGlyphs">5</tspan></text>
<text y="673"><tspan x="48.1" textLength="17.0" lengthAdjust="spacingAndGlyphs">2</tspan><tspan x="66.6" textLength="17.6" lengthAdjust="spacingAndGlyphs">2</tspan><tspan x="84.6" textLength="10.2" lengthAdjust="spacingAndGlyphs">.</tspan><tspan x="97.4" textLength="16.3" lengthAdjust="spacingAndGlyphs">5</tspan></text>
<text y="736"><tspan x="44.2" textLength="31.4" lengthAdjust="spacingAndGlyphs">M</tspan><tspan x="75.7" textLength="16.9" lengthAdjust="spacingAndGlyphs">è</tspan><tspan x="93.7" textLength="11.0" lengthAdjust="spacingAndGlyphs">t</tspan><tspan x="105.5" textLength="12.9" lengthAdjust="spacingAndGlyphs">r</tspan><tspan x="118.5" textLength="16.1" lengthAdjust="spacingAndGlyphs">e</tspan><tspan x="133.5" textLength="13.0" lengthAdjust="spacingAndGlyphs">s</tspan></text>
<text y="736"><tspan x="158.2" textLength="19.8" lengthAdjust="spacingAndGlyphs">0</tspan></text>
<text y="736"><tspan x="326.9" textLength="18.1" lengthAdjust="spacingAndGlyphs">1</tspan><tspan x="344.7" textLength="18.5" lengthAdjust="spacingAndGlyphs">0</tspan></text>
<text y="736"><tspan x="506.1" textLength="17.4" lengthAdjust="spacingAndGlyphs">2</tspan><tspan x="523.4" textLength="18.5" lengthAdjust="spacingAndGlyphs">0</tspan></text>
<text y="736"><tspan x="686.8" textLength="17.4" lengthAdjust="spacingAndGlyphs">2</tspan><tspan x="705.4" textLength="16.3" lengthAdjust="spacingAndGlyphs">5</tspan></text>
</g>
</svg>
</body></html>
